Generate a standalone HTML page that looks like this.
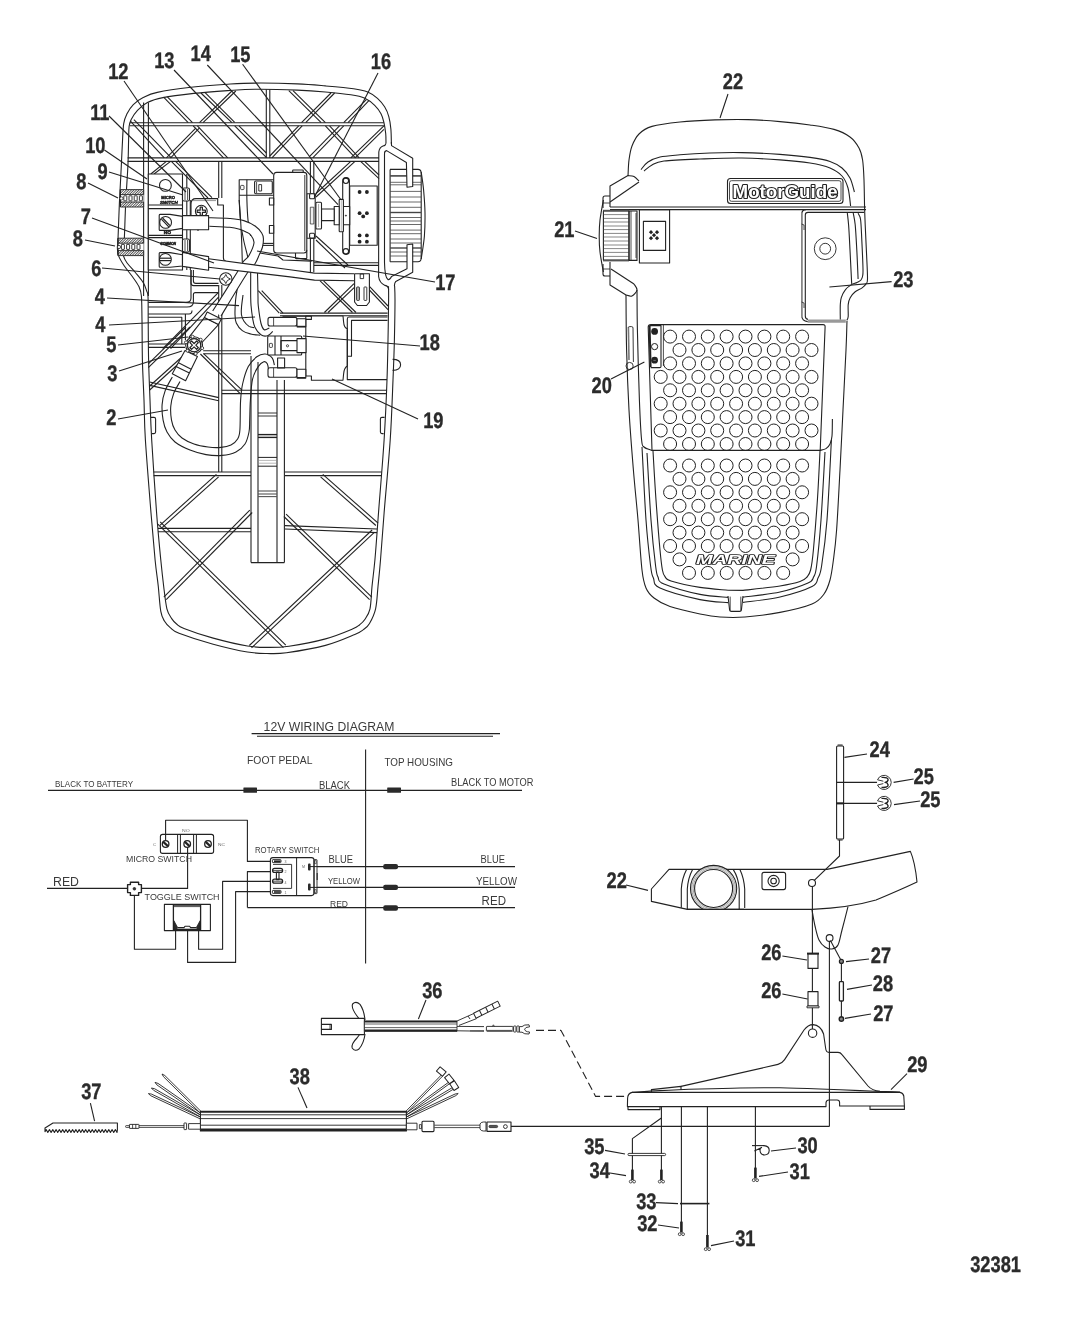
<!DOCTYPE html>
<html lang="en"><head><meta charset="utf-8"><title>Foot Pedal Assembly 32381</title>
<style>
html,body{margin:0;padding:0;background:#fff;}
body{width:1065px;height:1318px;overflow:hidden;}
svg{display:block;will-change:transform;}
text{font-family:"Liberation Sans",sans-serif;}
.lb{font-family:"Liberation Sans",sans-serif;font-weight:bold;text-rendering:geometricPrecision;}
</style></head><body>
<svg width="1065" height="1318" viewBox="0 0 1065 1318" stroke-linecap="butt" stroke-linejoin="round">
<rect x="0" y="0" width="1065" height="1318" fill="#ffffff"/>
<g id="pedal_bottom">
<path d="M394.6 286.0 C394.7 288.3 395.0 291.0 395.0 300.0 C395.0 309.0 394.7 326.7 394.4 340.0 C394.1 353.3 393.7 363.3 393.0 380.0 C392.3 396.7 391.7 417.8 390.2 440.0 C388.7 462.2 385.7 493.0 384.1 513.0 C382.5 533.0 381.5 547.8 380.5 560.0 C379.5 572.2 378.8 578.4 378.0 586.5 C377.2 594.6 377.0 602.6 375.6 608.8 C374.2 615.0 371.5 620.0 369.5 623.5 C367.5 627.0 365.8 627.8 363.4 629.6 C360.9 631.4 361.1 631.9 354.8 634.5 C348.5 637.1 336.9 642.4 325.5 645.4 C314.1 648.4 296.2 651.4 286.5 652.8 C276.8 654.1 273.5 653.6 267.0 653.5 C260.5 653.4 256.4 653.5 247.4 652.0 C238.4 650.5 224.6 647.3 213.2 644.2 C201.8 641.1 186.1 635.9 179.0 633.2 C171.9 630.5 172.9 629.9 170.5 627.9 C168.1 625.9 166.0 623.8 164.4 621.0 C162.8 618.2 161.8 617.0 160.8 611.3 C159.7 605.5 159.2 595.0 158.3 586.5 C157.4 578.0 156.3 572.2 155.1 560.0 C153.9 547.8 152.6 533.0 151.0 513.0 C149.4 493.0 146.6 458.8 145.4 440.0 C144.2 421.2 144.5 413.3 144.0 400.0 C143.5 386.7 142.7 373.3 142.4 360.0 C142.1 346.7 142.2 330.7 142.0 320.0 C141.8 309.3 141.9 301.6 141.4 296.0 C140.9 290.4 140.4 289.8 138.9 286.6 C137.4 283.4 135.0 280.3 132.5 276.8 C130.0 273.3 126.3 269.0 124.0 265.5 C121.7 262.0 119.6 258.5 118.5 255.6 C117.4 252.7 117.5 250.8 117.4 248.0 C117.3 245.2 117.7 246.5 118.0 239.0 C118.3 231.5 118.9 215.2 119.4 203.0 C120.0 190.8 120.8 175.7 121.3 166.0 C121.8 156.3 121.9 152.1 122.3 145.0 C122.7 137.9 122.9 128.9 123.7 123.7 C124.5 118.5 125.4 117.0 127.0 113.8 C128.6 110.6 130.6 107.3 133.3 104.6 C136.0 101.9 139.2 99.6 143.2 97.6 C147.2 95.6 149.3 94.1 157.3 92.4 C165.3 90.7 179.3 88.7 191.0 87.3 C202.7 85.9 217.0 84.9 227.7 84.2 C238.4 83.5 243.4 83.1 255.0 83.1 C266.6 83.0 285.6 83.4 297.3 83.9 C309.0 84.4 316.0 85.1 325.4 85.9 C334.8 86.7 346.6 87.7 353.6 88.7 C360.7 89.7 363.7 90.4 367.7 92.0 C371.7 93.6 374.7 95.8 377.5 98.3 C380.3 100.8 382.7 103.8 384.6 106.8 C386.5 109.8 387.8 112.8 388.8 116.6 C389.9 120.3 390.5 124.7 390.9 129.3 C391.3 133.9 391.3 141.6 391.4 144.0" fill="none" stroke="#222222" stroke-width="1.1" />
<path d="M388.5 286.3 C388.5 288.6 388.7 291.1 388.6 300.0 C388.5 308.9 388.3 326.7 388.0 340.0 C387.7 353.3 387.6 363.3 387.0 380.0 C386.4 396.7 385.5 417.8 384.1 440.0 C382.7 462.2 380.0 493.0 378.5 513.0 C377.0 533.0 376.0 547.8 374.9 560.0 C373.8 572.2 372.8 578.4 372.0 586.5 C371.2 594.6 371.2 603.2 370.0 608.8 C368.8 614.3 366.3 617.1 364.6 619.8 C362.9 622.4 361.7 623.2 359.7 624.7 C357.7 626.2 358.1 626.7 352.4 629.1 C346.7 631.5 336.1 636.0 325.5 638.9 C314.9 641.8 298.8 644.8 289.0 646.2 C279.2 647.6 273.9 647.4 267.0 647.4 C260.1 647.4 256.4 647.5 247.4 646.0 C238.4 644.5 223.8 641.0 213.2 638.1 C202.6 635.2 190.1 630.8 184.0 628.4 C177.9 626.0 178.7 625.6 176.6 624.0 C174.5 622.4 173.3 621.1 171.7 618.6 C170.1 616.1 168.2 614.1 166.9 608.8 C165.6 603.4 164.7 594.6 163.7 586.5 C162.7 578.4 162.0 572.2 160.8 560.0 C159.6 547.8 158.1 533.0 156.6 513.0 C155.1 493.0 152.8 458.8 151.7 440.0 C150.6 421.2 150.5 413.3 150.0 400.0 C149.5 386.7 148.9 373.3 148.6 360.0 C148.3 346.7 148.3 330.6 148.2 320.0 C148.1 309.4 148.3 301.4 148.0 296.5 C147.7 291.6 147.4 293.2 146.6 290.8 C145.8 288.4 145.0 285.4 143.1 282.4 C141.2 279.3 138.1 275.8 135.4 272.5 C132.7 269.2 128.9 265.5 126.9 262.7 C124.9 259.9 124.0 258.1 123.4 255.6 C122.9 253.2 123.4 250.8 123.6 248.0 C123.8 245.2 123.9 246.5 124.3 239.0 C124.7 231.5 125.1 215.2 125.7 203.0 C126.3 190.8 127.4 176.5 127.9 166.0 C128.4 155.5 128.4 146.6 128.6 140.0 C128.8 133.4 128.7 129.9 129.1 126.5 C129.5 123.1 129.8 122.1 131.2 119.4 C132.6 116.7 134.8 113.1 137.5 110.3 C140.2 107.5 143.2 104.6 147.4 102.5 C151.6 100.4 155.2 99.1 162.9 97.6 C170.7 96.1 183.1 94.6 193.9 93.4 C204.7 92.2 217.5 91.3 227.7 90.6 C237.9 89.9 243.4 89.3 255.0 89.2 C266.6 89.1 285.6 89.6 297.3 90.1 C309.0 90.6 316.5 91.2 325.4 92.0 C334.3 92.8 344.2 93.8 350.8 94.8 C357.4 95.8 360.9 96.5 364.9 98.3 C368.9 100.1 372.0 102.8 374.7 105.4 C377.4 108.0 379.5 111.0 381.0 113.8 C382.5 116.6 383.1 119.0 383.9 122.3 C384.7 125.6 385.3 130.0 385.7 133.5 C386.1 137.0 385.9 141.8 386.0 143.4" fill="none" stroke="#222222" stroke-width="1.1" />
<line x1="130.0" y1="122.7" x2="383.9" y2="122.7" stroke="#222222" stroke-width="1.1" />
<line x1="130.0" y1="125.8" x2="383.9" y2="125.8" stroke="#222222" stroke-width="1.1" />
<line x1="127.6" y1="157.9" x2="379.0" y2="157.9" stroke="#222222" stroke-width="1.1" />
<line x1="127.6" y1="161.4" x2="379.0" y2="161.4" stroke="#222222" stroke-width="1.1" />
<line x1="143.6" y1="102.5" x2="143.6" y2="296.0" stroke="#222222" stroke-width="1.1" />
<line x1="148.4" y1="102.5" x2="148.4" y2="296.0" stroke="#222222" stroke-width="1.1" />
<line x1="266.3" y1="89.6" x2="266.3" y2="157.9" stroke="#222222" stroke-width="1.1" />
<line x1="269.8" y1="89.6" x2="269.8" y2="157.9" stroke="#222222" stroke-width="1.1" />
<line x1="163.6" y1="97.2" x2="188.2" y2="122.7" stroke="#222222" stroke-width="1.1" />
<line x1="167.4" y1="96.9" x2="192.5" y2="122.7" stroke="#222222" stroke-width="1.1" />
<line x1="200.9" y1="93.0" x2="231.9" y2="122.7" stroke="#222222" stroke-width="1.1" />
<line x1="205.1" y1="92.7" x2="234.7" y2="122.3" stroke="#222222" stroke-width="1.1" />
<line x1="231.9" y1="91.0" x2="199.5" y2="122.7" stroke="#222222" stroke-width="1.1" />
<line x1="235.8" y1="91.0" x2="203.0" y2="122.7" stroke="#222222" stroke-width="1.1" />
<line x1="288.8" y1="90.6" x2="321.2" y2="122.7" stroke="#222222" stroke-width="1.1" />
<line x1="293.0" y1="90.6" x2="325.4" y2="122.7" stroke="#222222" stroke-width="1.1" />
<line x1="331.0" y1="93.0" x2="301.5" y2="122.7" stroke="#222222" stroke-width="1.1" />
<line x1="334.6" y1="93.0" x2="305.7" y2="122.7" stroke="#222222" stroke-width="1.1" />
<line x1="366.3" y1="99.7" x2="343.7" y2="122.7" stroke="#222222" stroke-width="1.1" />
<line x1="369.1" y1="100.4" x2="348.0" y2="122.7" stroke="#222222" stroke-width="1.1" />
<line x1="193.2" y1="125.8" x2="223.5" y2="157.9" stroke="#222222" stroke-width="1.1" />
<line x1="197.4" y1="125.8" x2="227.7" y2="157.9" stroke="#222222" stroke-width="1.1" />
<line x1="196.0" y1="127.9" x2="166.4" y2="157.9" stroke="#222222" stroke-width="1.1" />
<line x1="199.5" y1="127.9" x2="170.6" y2="157.9" stroke="#222222" stroke-width="1.1" />
<line x1="234.7" y1="125.8" x2="266.3" y2="157.4" stroke="#222222" stroke-width="1.1" />
<line x1="239.0" y1="125.8" x2="266.3" y2="153.0" stroke="#222222" stroke-width="1.1" />
<line x1="130.2" y1="120.8" x2="164.3" y2="157.9" stroke="#222222" stroke-width="1.1" />
<line x1="133.9" y1="119.6" x2="171.3" y2="157.9" stroke="#222222" stroke-width="1.1" />
<line x1="325.4" y1="125.8" x2="355.4" y2="157.9" stroke="#222222" stroke-width="1.1" />
<line x1="329.6" y1="125.8" x2="359.2" y2="157.9" stroke="#222222" stroke-width="1.1" />
<line x1="298.7" y1="125.8" x2="269.8" y2="156.0" stroke="#222222" stroke-width="1.1" />
<line x1="302.2" y1="125.8" x2="271.9" y2="157.9" stroke="#222222" stroke-width="1.1" />
<line x1="339.5" y1="125.8" x2="309.2" y2="156.8" stroke="#222222" stroke-width="1.1" />
<line x1="343.7" y1="125.8" x2="312.7" y2="157.9" stroke="#222222" stroke-width="1.1" />
<line x1="383.9" y1="125.8" x2="350.8" y2="157.9" stroke="#222222" stroke-width="1.1" />
<line x1="383.9" y1="129.3" x2="355.0" y2="157.9" stroke="#222222" stroke-width="1.1" />
<line x1="166.4" y1="161.4" x2="150.8" y2="174.0" stroke="#222222" stroke-width="1.1" />
<line x1="170.6" y1="161.4" x2="154.0" y2="174.0" stroke="#222222" stroke-width="1.1" />
<line x1="171.3" y1="161.4" x2="208.0" y2="198.0" stroke="#222222" stroke-width="1.1" />
<line x1="175.6" y1="161.4" x2="212.0" y2="197.6" stroke="#222222" stroke-width="1.1" />
<line x1="360.6" y1="161.4" x2="379.0" y2="178.6" stroke="#222222" stroke-width="1.1" />
<line x1="364.6" y1="161.4" x2="379.0" y2="175.0" stroke="#222222" stroke-width="1.1" />
<line x1="350.8" y1="161.4" x2="316.0" y2="193.5" stroke="#222222" stroke-width="1.1" />
<line x1="355.0" y1="161.4" x2="316.0" y2="197.0" stroke="#222222" stroke-width="1.1" />
<line x1="316.0" y1="240.0" x2="345.0" y2="268.0" stroke="#222222" stroke-width="1.1" />
<line x1="316.0" y1="236.0" x2="348.0" y2="265.0" stroke="#222222" stroke-width="1.1" />
<line x1="218.7" y1="161.4" x2="218.7" y2="198.0" stroke="#222222" stroke-width="1.1" />
<line x1="221.8" y1="161.4" x2="221.8" y2="198.0" stroke="#222222" stroke-width="1.1" />
<line x1="218.7" y1="285.0" x2="218.7" y2="472.0" stroke="#222222" stroke-width="1.1" />
<line x1="221.8" y1="285.0" x2="221.8" y2="472.0" stroke="#222222" stroke-width="1.1" />
<line x1="310.4" y1="161.4" x2="310.4" y2="194.0" stroke="#222222" stroke-width="1.1" />
<line x1="313.8" y1="161.4" x2="313.8" y2="194.0" stroke="#222222" stroke-width="1.1" />
<line x1="310.4" y1="238.0" x2="310.4" y2="272.0" stroke="#222222" stroke-width="1.1" />
<line x1="313.8" y1="238.0" x2="313.8" y2="272.0" stroke="#222222" stroke-width="1.1" />
<line x1="314.0" y1="262.7" x2="378.6" y2="262.7" stroke="#222222" stroke-width="1.1" />
<line x1="314.0" y1="265.4" x2="378.6" y2="265.4" stroke="#222222" stroke-width="1.1" />
<line x1="280.0" y1="313.1" x2="387.6" y2="313.1" stroke="#222222" stroke-width="1.1" />
<line x1="280.0" y1="315.8" x2="387.6" y2="315.8" stroke="#222222" stroke-width="1.1" />
<line x1="221.8" y1="390.2" x2="387.0" y2="390.2" stroke="#222222" stroke-width="1.1" />
<line x1="221.8" y1="393.6" x2="387.0" y2="393.6" stroke="#222222" stroke-width="1.1" />
<line x1="320.1" y1="280.8" x2="352.5" y2="312.5" stroke="#222222" stroke-width="1.1" />
<line x1="323.6" y1="280.8" x2="356.0" y2="312.5" stroke="#222222" stroke-width="1.1" />
<line x1="354.0" y1="283.7" x2="324.4" y2="312.5" stroke="#222222" stroke-width="1.1" />
<line x1="354.4" y1="287.4" x2="328.0" y2="312.5" stroke="#222222" stroke-width="1.1" />
<line x1="369.4" y1="286.3" x2="388.0" y2="306.0" stroke="#222222" stroke-width="1.1" />
<line x1="369.4" y1="290.0" x2="388.0" y2="309.6" stroke="#222222" stroke-width="1.1" />
<line x1="258.2" y1="290.7" x2="279.3" y2="313.2" stroke="#222222" stroke-width="1.1" />
<line x1="261.7" y1="290.7" x2="283.0" y2="313.2" stroke="#222222" stroke-width="1.1" />
<line x1="148.3" y1="344.0" x2="185.0" y2="344.0" stroke="#222222" stroke-width="1.1" />
<line x1="148.3" y1="347.4" x2="185.0" y2="347.4" stroke="#222222" stroke-width="1.1" />
<line x1="203.2" y1="350.8" x2="251.0" y2="350.8" stroke="#222222" stroke-width="1.1" />
<line x1="203.2" y1="353.7" x2="251.0" y2="353.7" stroke="#222222" stroke-width="1.1" />
<line x1="186.0" y1="327.0" x2="148.3" y2="363.8" stroke="#222222" stroke-width="1.1" />
<line x1="190.0" y1="327.0" x2="148.3" y2="367.6" stroke="#222222" stroke-width="1.1" />
<line x1="183.0" y1="356.0" x2="149.7" y2="386.0" stroke="#222222" stroke-width="1.1" />
<line x1="186.0" y1="357.0" x2="149.7" y2="390.0" stroke="#222222" stroke-width="1.1" />
<line x1="200.4" y1="354.0" x2="239.9" y2="393.4" stroke="#222222" stroke-width="1.1" />
<line x1="203.6" y1="353.7" x2="242.0" y2="390.2" stroke="#222222" stroke-width="1.1" />
<line x1="149.7" y1="382.0" x2="218.7" y2="397.6" stroke="#222222" stroke-width="1.1" />
<line x1="149.7" y1="385.4" x2="218.7" y2="400.8" stroke="#222222" stroke-width="1.1" />
<line x1="218.5" y1="292.3" x2="162.8" y2="348.6" stroke="#222222" stroke-width="1.1" />
<line x1="218.5" y1="297.2" x2="170.6" y2="348.6" stroke="#222222" stroke-width="1.1" />
<path d="M148.3 302.4 L186 302.4 Q191 302.4 191 298 L191 270" fill="none" stroke="#222222" stroke-width="1.1" />
<path d="M148.3 307 L187 307 Q193.4 307 193.4 302 L193.4 294.6 Q193.4 292.6 195.4 292.6 L218.5 292.6" fill="none" stroke="#222222" stroke-width="1.1" />
<path d="M148.3 314 L189 314 Q192 314 192 310.6" fill="none" stroke="#222222" stroke-width="1.1" />
<path d="M191 270 L191 283 Q191 285.6 193.6 285.6 L218.5 285.6" fill="none" stroke="#222222" stroke-width="1.1" />
<path d="M193.4 270 L193.4 281 Q193.4 283.4 196 283.4 L218.5 283.4" fill="none" stroke="#222222" stroke-width="1.1" />
<path d="M148.3 317.3 L181.8 317.3 L181.8 344.0" fill="none" stroke="#222222" stroke-width="1.1" />
<line x1="185.4" y1="314.0" x2="185.4" y2="340.0" stroke="#222222" stroke-width="1.1" />
<line x1="153.6" y1="472.0" x2="251.0" y2="472.0" stroke="#222222" stroke-width="1.1" />
<line x1="153.6" y1="475.6" x2="251.0" y2="475.6" stroke="#222222" stroke-width="1.1" />
<line x1="285.0" y1="472.0" x2="381.6" y2="472.0" stroke="#222222" stroke-width="1.1" />
<line x1="285.0" y1="475.6" x2="381.6" y2="475.6" stroke="#222222" stroke-width="1.1" />
<line x1="158.0" y1="528.4" x2="251.0" y2="528.4" stroke="#222222" stroke-width="1.1" />
<line x1="158.0" y1="531.8" x2="251.0" y2="531.8" stroke="#222222" stroke-width="1.1" />
<line x1="285.0" y1="525.6" x2="377.0" y2="529.0" stroke="#222222" stroke-width="1.1" />
<line x1="285.0" y1="529.0" x2="377.0" y2="532.6" stroke="#222222" stroke-width="1.1" />
<line x1="216.4" y1="474.4" x2="159.9" y2="525.3" stroke="#222222" stroke-width="1.1" />
<line x1="218.6" y1="476.8" x2="162.1" y2="527.7" stroke="#222222" stroke-width="1.1" />
<line x1="157.8" y1="524.2" x2="283.4" y2="647.6" stroke="#222222" stroke-width="1.1" />
<line x1="160.2" y1="521.8" x2="285.8" y2="645.2" stroke="#222222" stroke-width="1.1" />
<line x1="249.8" y1="510.1" x2="163.8" y2="597.2" stroke="#222222" stroke-width="1.1" />
<line x1="252.2" y1="512.5" x2="166.2" y2="599.6" stroke="#222222" stroke-width="1.1" />
<line x1="320.6" y1="476.8" x2="375.9" y2="525.5" stroke="#222222" stroke-width="1.1" />
<line x1="322.8" y1="474.4" x2="378.1" y2="523.1" stroke="#222222" stroke-width="1.1" />
<line x1="283.9" y1="516.5" x2="369.6" y2="599.6" stroke="#222222" stroke-width="1.1" />
<line x1="286.1" y1="514.1" x2="371.8" y2="597.2" stroke="#222222" stroke-width="1.1" />
<line x1="372.1" y1="530.0" x2="249.3" y2="645.5" stroke="#222222" stroke-width="1.1" />
<line x1="374.3" y1="532.4" x2="251.5" y2="647.9" stroke="#222222" stroke-width="1.1" />
<line x1="251.0" y1="356.0" x2="251.0" y2="562.6" stroke="#222222" stroke-width="1.1" />
<line x1="258.0" y1="362.0" x2="258.0" y2="562.6" stroke="#222222" stroke-width="1.1" />
<line x1="277.0" y1="380.0" x2="277.0" y2="562.6" stroke="#222222" stroke-width="1.1" />
<line x1="284.4" y1="380.0" x2="284.4" y2="562.6" stroke="#222222" stroke-width="1.1" />
<line x1="251.0" y1="562.6" x2="284.4" y2="562.6" stroke="#222222" stroke-width="1.1" />
<line x1="258.0" y1="413.0" x2="277.0" y2="413.0" stroke="#222222" stroke-width="0.9" />
<line x1="258.0" y1="416.0" x2="277.0" y2="416.0" stroke="#222222" stroke-width="0.9" />
<line x1="258.0" y1="434.6" x2="277.0" y2="434.6" stroke="#222222" stroke-width="1.4" />
<line x1="258.0" y1="437.4" x2="277.0" y2="437.4" stroke="#222222" stroke-width="1.4" />
<line x1="258.0" y1="457.4" x2="277.0" y2="457.4" stroke="#222222" stroke-width="1.0" />
<line x1="258.0" y1="466.2" x2="277.0" y2="466.2" stroke="#222222" stroke-width="1.0" />
<line x1="258.0" y1="460.4" x2="277.0" y2="460.4" stroke="#888" stroke-width="0.6" />
<line x1="258.0" y1="463.2" x2="277.0" y2="463.2" stroke="#888" stroke-width="0.6" />
<line x1="258.0" y1="491.0" x2="277.0" y2="491.0" stroke="#555" stroke-width="1.1" />
<line x1="258.0" y1="494.0" x2="277.0" y2="494.0" stroke="#555" stroke-width="1.1" />
<line x1="258.0" y1="496.6" x2="277.0" y2="496.6" stroke="#555" stroke-width="1.1" />
<path d="M151 417.4 L154 417.4 Q155.6 417.4 155.6 419 L155.6 432 Q155.6 433.6 154 433.6 L152 433.6" fill="none" stroke="#222222" stroke-width="1.1" />
<path d="M384.6 417.4 L382 417.4 Q380.4 417.4 380.4 419 L380.4 432 Q380.4 433.6 382 433.6 L383.6 433.6" fill="none" stroke="#222222" stroke-width="1.1" />
<path d="M392.6 359.4 Q400.6 359.4 400.6 364.8 Q400.6 370.4 392.6 370.4" fill="none" stroke="#222222" stroke-width="1.1" />
</g>
<g id="pedal_parts">
<path d="M390 169.4 L418 169.4 Q421 169.4 421.2 173 L421.2 258 Q421 261.8 418 261.8 L390 261.8" fill="#fff" stroke="#222222" stroke-width="1.1" />
<path d="M421.2 172.0 C421.6 175.0 423.0 183.2 423.6 190.0 C424.2 196.8 424.9 205.3 425.0 213.0 C425.1 220.7 425.0 228.3 424.4 236.0 C423.8 243.7 421.7 255.2 421.2 259.0" fill="none" stroke="#222222" stroke-width="1.1" />
<line x1="390.4" y1="175.9" x2="421.0" y2="175.9" stroke="#444" stroke-width="1.6" />
<line x1="390.4" y1="182.3" x2="421.0" y2="182.3" stroke="#444" stroke-width="0.8" />
<line x1="390.4" y1="184.8" x2="421.0" y2="184.8" stroke="#444" stroke-width="0.8" />
<line x1="390.4" y1="191.4" x2="421.0" y2="191.4" stroke="#444" stroke-width="0.8" />
<line x1="390.4" y1="197.0" x2="421.0" y2="197.0" stroke="#444" stroke-width="0.8" />
<line x1="390.4" y1="202.0" x2="421.0" y2="202.0" stroke="#444" stroke-width="0.8" />
<line x1="390.4" y1="207.3" x2="421.0" y2="207.3" stroke="#444" stroke-width="0.8" />
<line x1="390.4" y1="212.5" x2="421.0" y2="212.5" stroke="#444" stroke-width="1.4" />
<line x1="390.4" y1="217.5" x2="421.0" y2="217.5" stroke="#444" stroke-width="0.8" />
<line x1="390.4" y1="221.0" x2="421.0" y2="221.0" stroke="#444" stroke-width="0.8" />
<line x1="390.4" y1="224.5" x2="421.0" y2="224.5" stroke="#444" stroke-width="0.8" />
<line x1="390.4" y1="230.1" x2="421.0" y2="230.1" stroke="#444" stroke-width="0.8" />
<line x1="390.4" y1="233.7" x2="421.0" y2="233.7" stroke="#444" stroke-width="0.8" />
<line x1="390.4" y1="239.0" x2="421.0" y2="239.0" stroke="#444" stroke-width="0.8" />
<line x1="390.4" y1="243.0" x2="421.0" y2="243.0" stroke="#444" stroke-width="0.8" />
<line x1="390.4" y1="248.0" x2="421.0" y2="248.0" stroke="#444" stroke-width="1.4" />
<line x1="390.4" y1="252.0" x2="421.0" y2="252.0" stroke="#444" stroke-width="0.8" />
<line x1="390.4" y1="256.0" x2="421.0" y2="256.0" stroke="#444" stroke-width="0.8" />
<line x1="390.1" y1="169.4" x2="390.1" y2="261.8" stroke="#222222" stroke-width="1.1" />
<path d="M391.5 145.6 L412.7 158.3 L412.7 186.5 L407.0 187.2 L406.4 162.5 L386.6 150.6 Z" fill="#fff" stroke="none" stroke-width="0" />
<path d="M391.5 276.5 L407.0 268.7 L407.0 244.8 L412.7 244.0 L412.7 272.3 L395.8 281.4 L394.4 286.0 L388.0 286.0 Z" fill="#fff" stroke="none" stroke-width="0" />
<path d="M391.4 142 L391.5 145.6 L412.7 158.3 L412.7 186.5 L407 187.2 L406.4 162.5 L386.6 150.6 Q384.5 151 384.5 153.5 L384.5 262.4 Q384.8 277.4 388 279.6 Q390 280 391.5 276.5 L407 268.7 L407 244.8 L412.7 244 L412.7 272.3 L395.8 281.4 Q394.4 283 394.4 286" fill="none" stroke="#222222" stroke-width="1.1" />
<path d="M386 143.4 Q385.6 145.6 383 146 Q379.4 147.4 378.8 152 L378.6 276.5 Q379.4 283 385 285.4 Q388.6 286 388.6 290" fill="none" stroke="#222222" stroke-width="1.1" />
<rect x="349.7" y="186.0" width="27.5" height="59.2" rx="0" fill="#fff" stroke="#222222" stroke-width="1.1"/>
<circle cx="359.6" cy="192.0" r="1.90" fill="#222" stroke="#222222" stroke-width="0"/>
<circle cx="366.9" cy="192.0" r="1.90" fill="#222" stroke="#222222" stroke-width="0"/>
<circle cx="359.6" cy="213.2" r="1.90" fill="#222" stroke="#222222" stroke-width="0"/>
<circle cx="366.9" cy="213.2" r="1.90" fill="#222" stroke="#222222" stroke-width="0"/>
<circle cx="363.2" cy="216.4" r="1.90" fill="#222" stroke="#222222" stroke-width="0"/>
<circle cx="359.6" cy="235.4" r="1.90" fill="#222" stroke="#222222" stroke-width="0"/>
<circle cx="366.9" cy="235.4" r="1.90" fill="#222" stroke="#222222" stroke-width="0"/>
<circle cx="359.6" cy="241.7" r="1.90" fill="#222" stroke="#222222" stroke-width="0"/>
<circle cx="366.9" cy="241.7" r="1.90" fill="#222" stroke="#222222" stroke-width="0"/>
<rect x="342.7" y="177.6" width="6.7" height="76.8" rx="3.3" fill="#fff" stroke="#222222" stroke-width="1.1"/>
<circle cx="345.9" cy="180.8" r="2.70" fill="none" stroke="#222222" stroke-width="1.1"/>
<circle cx="345.9" cy="251.3" r="2.70" fill="none" stroke="#222222" stroke-width="1.1"/>
<rect x="343.4" y="206.5" width="6.3" height="18.3" rx="0" fill="#fff" stroke="#222222" stroke-width="1.1"/>
<circle cx="345.9" cy="215.6" r="0.60" fill="#333" stroke="#222222" stroke-width="0.6"/>
<rect x="339.2" y="199.4" width="4.2" height="32.4" rx="0.8" fill="#fff" stroke="#222222" stroke-width="1.1"/>
<line x1="341.3" y1="200.0" x2="341.3" y2="231.0" stroke="#777" stroke-width="0.5" />
<rect x="334.2" y="206.5" width="5.0" height="18.3" rx="0" fill="#fff" stroke="#222222" stroke-width="1.1"/>
<rect x="321.5" y="209.0" width="12.7" height="11.6" rx="0" fill="#fff" stroke="#222222" stroke-width="1.1"/>
<rect x="315.9" y="202.3" width="5.6" height="26.7" rx="1" fill="#fff" stroke="#222222" stroke-width="1.1"/>
<line x1="318.6" y1="204.0" x2="318.6" y2="227.0" stroke="#666" stroke-width="0.6" />
<rect x="306.8" y="193.8" width="8.4" height="44.4" rx="0" fill="#fff" stroke="#222222" stroke-width="1.1"/>
<rect x="309.6" y="193.8" width="4.9" height="4.9" rx="1" fill="#fff" stroke="#222222" stroke-width="1.1"/>
<rect x="309.6" y="233.2" width="4.9" height="4.9" rx="1" fill="#fff" stroke="#222222" stroke-width="1.1"/>
<rect x="310.3" y="207.2" width="3.5" height="16.8" rx="0" fill="#eee" stroke="#222222" stroke-width="0.7"/>
<rect x="292.7" y="170.0" width="10.5" height="4.0" rx="0.6" fill="#fff" stroke="#222222" stroke-width="1.1"/>
<rect x="295.5" y="250.0" width="11.3" height="8.6" rx="0.6" fill="#fff" stroke="#222222" stroke-width="1.1"/>
<rect x="273.7" y="172.4" width="33.1" height="80.6" rx="3" fill="#fff" stroke="#222222" stroke-width="1.1"/>
<line x1="304.8" y1="175.0" x2="304.8" y2="251.0" stroke="#222222" stroke-width="0.9" />
<rect x="269.4" y="198.0" width="4.3" height="7.0" rx="0" fill="#fff" stroke="#222222" stroke-width="1.1"/>
<rect x="269.4" y="225.5" width="4.3" height="7.7" rx="0" fill="#fff" stroke="#222222" stroke-width="1.1"/>
<path d="M273.7 179.7 L239.2 179.7 L239.2 200.0" fill="none" stroke="#222222" stroke-width="1.1" />
<path d="M239.2 200.0 C239.4 203.3 239.7 213.3 240.4 220.0 C241.1 226.7 242.3 233.7 243.6 240.0 C244.9 246.3 246.9 253.0 248.0 258.0 C249.1 263.0 249.7 268.0 250.0 270.0" fill="none" stroke="#222222" stroke-width="1.1" />
<path d="M246.9 179.7 C246.9 183.1 246.7 193.3 246.9 200.0 C247.1 206.7 247.4 214.0 248.0 220.0 C248.6 226.0 250.2 233.3 250.6 236.0" fill="none" stroke="#222222" stroke-width="1.1" />
<line x1="239.2" y1="195.2" x2="273.7" y2="195.2" stroke="#222222" stroke-width="1.1" />
<rect x="254.6" y="181.0" width="17.7" height="12.8" rx="1.2" fill="#fff" stroke="#222222" stroke-width="1.1"/>
<line x1="256.6" y1="182.0" x2="256.6" y2="193.0" stroke="#222222" stroke-width="0.8" />
<rect x="258.8" y="184.6" width="2.8" height="6.4" rx="0" fill="none" stroke="#222222" stroke-width="0.9"/>
<rect x="240.6" y="185.4" width="3.4" height="4.2" rx="0.8" fill="none" stroke="#222222" stroke-width="0.8"/>
<line x1="254.0" y1="243.4" x2="273.7" y2="243.4" stroke="#222222" stroke-width="1.1" />
<line x1="254.0" y1="245.4" x2="273.7" y2="245.4" stroke="#222222" stroke-width="1.1" />
<path d="M258.2 252.7 L278.0 256.0 L283.0 260.0 L311.7 261.1" fill="none" stroke="#222222" stroke-width="1.1" />
<rect x="148.3" y="174.0" width="34.2" height="96.0" rx="0" fill="#fff" stroke="#222222" stroke-width="1.1"/>
<line x1="148.3" y1="205.0" x2="182.5" y2="205.0" stroke="#222222" stroke-width="1.1" />
<line x1="148.3" y1="208.6" x2="182.5" y2="208.6" stroke="#222222" stroke-width="1.1" />
<line x1="148.3" y1="235.4" x2="182.5" y2="235.4" stroke="#222222" stroke-width="1.1" />
<line x1="148.3" y1="237.6" x2="182.5" y2="237.6" stroke="#222222" stroke-width="1.1" />
<circle cx="165.4" cy="185.4" r="5.90" fill="none" stroke="#222222" stroke-width="1.1"/>
<text x="161.2" y="198.8" font-size="4.2" fill="#222" font-weight="bold" font-style="normal" textLength="13.8" lengthAdjust="spacingAndGlyphs" stroke="#222" stroke-width="0.45">MICRO</text>
<text x="160.0" y="203.6" font-size="4.2" fill="#222" font-weight="bold" font-style="italic" textLength="17.8" lengthAdjust="spacingAndGlyphs" stroke="#222" stroke-width="0.45">SWITCH</text>
<text x="163.7" y="233.8" font-size="4.2" fill="#222" font-weight="bold" font-style="normal" textLength="7.3" lengthAdjust="spacingAndGlyphs" stroke="#222" stroke-width="0.45">NO</text>
<text x="160.2" y="244.8" font-size="3.8" fill="#222" font-weight="bold" font-style="italic" textLength="15.8" lengthAdjust="spacingAndGlyphs" stroke="#222" stroke-width="0.45">COMMON</text>
<path d="M160 214.4 L170 214.4 L182.5 216.4 L182.5 228.4 L170 230.4 L160 230.4 Q159.2 230.4 159.2 229.4 L159.2 215.4 Q159.2 214.4 160 214.4 Z" fill="none" stroke="#222222" stroke-width="1.1" />
<circle cx="165.6" cy="222.4" r="5.90" fill="none" stroke="#222222" stroke-width="1.1"/>
<line x1="161.4" y1="219.2" x2="168.8" y2="226.8" stroke="#222222" stroke-width="1.2" />
<line x1="162.6" y1="218.0" x2="170.0" y2="225.6" stroke="#222222" stroke-width="1.2" />
<path d="M160 252.6 L170 252.6 L182.5 254.8 L182.5 266 L170 267.2 L160 267.2 Q159.2 267.2 159.2 266.2 L159.2 253.6 Q159.2 252.6 160 252.6 Z" fill="none" stroke="#222222" stroke-width="1.1" />
<circle cx="165.4" cy="259.4" r="5.90" fill="none" stroke="#222222" stroke-width="1.1"/>
<line x1="159.8" y1="258.2" x2="171.0" y2="258.2" stroke="#222222" stroke-width="1.2" />
<line x1="159.8" y1="260.6" x2="171.0" y2="260.6" stroke="#222222" stroke-width="1.2" />
<line x1="186.8" y1="174.0" x2="186.8" y2="270.0" stroke="#222222" stroke-width="1.1" />
<line x1="190.3" y1="200.0" x2="190.3" y2="270.0" stroke="#222222" stroke-width="1.1" />
<rect x="182.5" y="188.0" width="7.0" height="13.0" rx="1.6" fill="#fff" stroke="#222222" stroke-width="1.1"/>
<line x1="185.0" y1="189.0" x2="185.0" y2="200.0" stroke="#222222" stroke-width="0.8" />
<line x1="187.6" y1="189.0" x2="187.6" y2="200.0" stroke="#222222" stroke-width="0.8" />
<rect x="182.5" y="239.0" width="7.0" height="13.0" rx="1.6" fill="#fff" stroke="#222222" stroke-width="1.1"/>
<line x1="185.0" y1="240.0" x2="185.0" y2="251.0" stroke="#222222" stroke-width="0.8" />
<line x1="187.6" y1="240.0" x2="187.6" y2="251.0" stroke="#222222" stroke-width="0.8" />
<defs><pattern id="hat" width="1.8" height="1.8" patternUnits="userSpaceOnUse" patternTransform="rotate(-45)"><rect width="1.8" height="1.8" fill="#fff"/><rect width="1.8" height="0.9" fill="#555"/></pattern></defs>
<rect x="120.4" y="189.6" width="23.2" height="17.6" rx="0" fill="#fff" stroke="#222222" stroke-width="0"/>
<rect x="120.4" y="189.6" width="23.2" height="5.0" rx="0" fill="url(#hat)" stroke="#222222" stroke-width="0.9"/>
<rect x="120.4" y="202.0" width="23.2" height="5.0" rx="0" fill="url(#hat)" stroke="#222222" stroke-width="0.9"/>
<rect x="123.8" y="195.8" width="3.0" height="5.0" rx="0.4" fill="#fff" stroke="#222222" stroke-width="0.9"/>
<rect x="129.0" y="195.8" width="3.0" height="5.0" rx="0.4" fill="#fff" stroke="#222222" stroke-width="0.9"/>
<rect x="134.2" y="195.8" width="3.0" height="5.0" rx="0.4" fill="#fff" stroke="#222222" stroke-width="0.9"/>
<rect x="139.4" y="195.8" width="3.0" height="5.0" rx="0.4" fill="#fff" stroke="#222222" stroke-width="0.9"/>
<line x1="120.4" y1="189.6" x2="120.4" y2="207.0" stroke="#222222" stroke-width="1.2" />
<circle cx="121.4" cy="198.4" r="1.60" fill="#fff" stroke="#222222" stroke-width="0.8"/>
<rect x="118.0" y="238.2" width="25.6" height="17.6" rx="0" fill="#fff" stroke="#222222" stroke-width="0"/>
<rect x="118.0" y="238.2" width="25.6" height="5.0" rx="0" fill="url(#hat)" stroke="#222222" stroke-width="0.9"/>
<rect x="118.0" y="250.6" width="25.6" height="5.0" rx="0" fill="url(#hat)" stroke="#222222" stroke-width="0.9"/>
<rect x="121.4" y="244.4" width="3.0" height="5.0" rx="0.4" fill="#fff" stroke="#222222" stroke-width="0.9"/>
<rect x="126.6" y="244.4" width="3.0" height="5.0" rx="0.4" fill="#fff" stroke="#222222" stroke-width="0.9"/>
<rect x="131.8" y="244.4" width="3.0" height="5.0" rx="0.4" fill="#fff" stroke="#222222" stroke-width="0.9"/>
<rect x="137.0" y="244.4" width="3.0" height="5.0" rx="0.4" fill="#fff" stroke="#222222" stroke-width="0.9"/>
<line x1="118.0" y1="238.2" x2="118.0" y2="255.6" stroke="#222222" stroke-width="1.2" />
<circle cx="119.0" cy="247.0" r="1.60" fill="#fff" stroke="#222222" stroke-width="0.8"/>
<path d="M191 217.7 L191 204 Q191 198.6 196 198.6 L217.7 198.6 L217.7 205 L223.4 205 L223.4 217.7" fill="#fff" stroke="#222222" stroke-width="1.1" />
<line x1="193.0" y1="200.6" x2="216.0" y2="200.6" stroke="#777" stroke-width="0.8" />
<circle cx="201.3" cy="211.2" r="5.90" fill="#fff" stroke="#222222" stroke-width="1.1"/>
<path d="M200.2 207.2 h2.2 v3 h3 v2.2 h-3 v3 h-2.2 v-3 h-3 v-2.2 h3 Z" fill="none" stroke="#222222" stroke-width="1.2" />
<path d="M237.2 289.0 C236.9 290.8 236.0 295.8 235.6 300.0 C235.2 304.2 234.9 310.7 235.0 314.5 C235.1 318.3 235.1 320.3 236.3 323.0 C237.5 325.7 239.9 328.8 242.3 330.6 C244.7 332.4 247.8 333.2 250.7 334.0 C253.6 334.8 258.4 335.0 260.0 335.2 L254.0 327.6 C253.2 327.4 250.7 327.4 249.0 326.4 C247.3 325.3 245.3 323.3 244.0 321.3 C242.7 319.3 241.8 317.1 241.4 314.5 C241.0 311.9 241.3 309.2 241.6 306.0 C241.9 302.8 242.8 296.8 243.0 295.0 Z" fill="#fff" stroke="none" stroke-width="0" />
<path d="M237.2 289.0 C236.9 290.8 236.0 295.8 235.6 300.0 C235.2 304.2 234.9 310.7 235.0 314.5 C235.1 318.3 235.1 320.3 236.3 323.0 C237.5 325.7 239.9 328.8 242.3 330.6 C244.7 332.4 247.8 333.2 250.7 334.0 C253.6 334.8 258.4 335.0 260.0 335.2" fill="none" stroke="#222222" stroke-width="1.1" />
<path d="M243.0 295.0 C242.8 296.8 241.9 302.8 241.6 306.0 C241.3 309.2 241.0 311.9 241.4 314.5 C241.8 317.1 242.7 319.3 244.0 321.3 C245.3 323.3 247.3 325.3 249.0 326.4 C250.7 327.4 253.2 327.4 254.0 327.6" fill="none" stroke="#222222" stroke-width="1.1" />
<path d="M250.7 272.0 C250.7 276.3 250.6 291.9 250.7 297.6 C250.8 303.3 250.8 302.6 251.1 306.0 C251.4 309.4 252.0 314.5 252.6 318.0 C253.2 321.5 253.5 324.4 254.9 327.2 C256.3 330.0 258.8 333.4 260.9 334.8 C263.0 336.2 265.6 336.3 267.6 335.7 C269.6 335.1 271.9 332.1 272.7 331.4 L269.3 328.0 C268.4 328.3 265.6 330.5 264.2 329.7 C262.8 328.9 261.9 326.9 260.9 323.0 C259.9 319.1 258.8 310.3 258.3 306.0 C257.8 301.7 258.1 302.7 258.0 297.0 C257.9 291.3 257.6 276.2 257.5 272.0 Z" fill="#fff" stroke="none" stroke-width="0" />
<path d="M250.7 272.0 C250.7 276.3 250.6 291.9 250.7 297.6 C250.8 303.3 250.8 302.6 251.1 306.0 C251.4 309.4 252.0 314.5 252.6 318.0 C253.2 321.5 253.5 324.4 254.9 327.2 C256.3 330.0 258.8 333.4 260.9 334.8 C263.0 336.2 265.6 336.3 267.6 335.7 C269.6 335.1 271.9 332.1 272.7 331.4" fill="none" stroke="#222222" stroke-width="1.1" />
<path d="M257.5 272.0 C257.6 276.2 257.9 291.3 258.0 297.0 C258.1 302.7 257.8 301.7 258.3 306.0 C258.8 310.3 259.9 319.1 260.9 323.0 C261.9 326.9 262.8 328.9 264.2 329.7 C265.6 330.5 268.4 328.3 269.3 328.0" fill="none" stroke="#222222" stroke-width="1.1" />
<path d="M208.6 217.7 C212.1 217.8 223.8 218.0 229.7 218.5 C235.6 219.0 239.5 219.3 243.8 220.6 C248.1 221.9 252.4 224.1 255.4 226.2 C258.4 228.3 260.4 230.9 261.7 233.0 C263.0 235.1 263.3 236.2 263.4 238.5 C263.5 240.8 263.2 244.2 262.5 247.0 C261.8 249.8 260.2 252.6 259.0 255.4 C257.8 258.2 256.9 260.9 255.0 263.8 C253.1 266.7 253.0 264.3 247.3 273.0 C241.6 281.7 225.4 308.8 221.0 316.0 L212.7 311.0 C216.8 304.6 232.1 280.5 237.2 272.3 C242.2 264.1 241.0 264.8 243.0 262.0 C245.0 259.2 247.2 258.6 249.0 255.4 C250.8 252.2 253.7 246.1 254.0 242.7 C254.3 239.3 252.0 236.8 250.7 235.0 C249.4 233.2 247.8 232.9 246.0 232.0 C244.2 231.1 242.7 230.2 240.0 229.4 C237.3 228.6 234.8 227.8 229.7 227.3 C224.6 226.8 212.7 226.4 209.3 226.2 Z" fill="#fff" stroke="none" stroke-width="0" />
<path d="M208.6 217.7 C212.1 217.8 223.8 218.0 229.7 218.5 C235.6 219.0 239.5 219.3 243.8 220.6 C248.1 221.9 252.4 224.1 255.4 226.2 C258.4 228.3 260.4 230.9 261.7 233.0 C263.0 235.1 263.3 236.2 263.4 238.5 C263.5 240.8 263.2 244.2 262.5 247.0 C261.8 249.8 260.2 252.6 259.0 255.4 C257.8 258.2 256.9 260.9 255.0 263.8 C253.1 266.7 253.0 264.3 247.3 273.0 C241.6 281.7 225.4 308.8 221.0 316.0" fill="none" stroke="#222222" stroke-width="1.1" />
<path d="M209.3 226.2 C212.7 226.4 224.6 226.8 229.7 227.3 C234.8 227.8 237.3 228.6 240.0 229.4 C242.7 230.2 244.2 231.1 246.0 232.0 C247.8 232.9 249.4 233.2 250.7 235.0 C252.0 236.8 254.3 239.3 254.0 242.7 C253.7 246.1 250.8 252.2 249.0 255.4 C247.2 258.6 245.0 259.2 243.0 262.0 C241.0 264.8 242.2 264.1 237.2 272.3 C232.1 280.5 216.8 304.6 212.7 311.0" fill="none" stroke="#222222" stroke-width="1.1" />
<rect x="182.5" y="215.6" width="26.1" height="14.1" rx="0" fill="#fff" stroke="#222222" stroke-width="1.1"/>
<line x1="198.0" y1="229.7" x2="198.0" y2="231.0" stroke="#222222" stroke-width="1.1" />
<path d="M223.4 217.7 L223.4 258 Q223.6 261 226 261.4" fill="none" stroke="#222222" stroke-width="1.1" />
<path d="M239.2 200.0 C239.4 203.3 240.2 213.3 240.6 220.0 C241.0 226.7 241.3 233.0 241.6 240.0 C241.9 247.0 242.2 258.3 242.3 262.0" fill="none" stroke="#222222" stroke-width="1.1" />
<path d="M204.4 317.6 L188.9 337.3 L201.5 343.0 L218.5 324.6 Z" fill="#fff" stroke="#222222" stroke-width="1.1" />
<path d="M207.2 312.0 L221.3 319.0 L218.5 324.6 L204.4 317.6 Z" fill="#fff" stroke="#222222" stroke-width="1.1" />
<path d="M208.6 258.7 L290.0 269.7 L314.5 273.1 L354.0 273.8 L354.0 280.8 L314.5 280.1 L290.0 276.9 L208.6 267.2 Z" fill="#fff" stroke="none" stroke-width="0" />
<path d="M208.6 258.7 L290.0 269.7 L314.5 273.1 L354.0 273.8" fill="none" stroke="#222222" stroke-width="1.1" />
<path d="M208.6 267.2 L290.0 276.9 L314.5 280.1 L354.0 280.8" fill="none" stroke="#222222" stroke-width="1.1" />
<path d="M182.5 252.4 L208.6 256.6 L208.6 270.2 L182.5 266.4 Z" fill="#fff" stroke="#222222" stroke-width="1.1" />
<circle cx="225.8" cy="279.0" r="6.20" fill="#fff" stroke="#222222" stroke-width="1.1"/>
<path d="M225.8 274.4 Q226.6 278.2 230.4 279 Q226.6 279.8 225.8 283.6 Q225 279.8 221.2 279 Q225 278.2 225.8 274.4 Z" fill="none" stroke="#222222" stroke-width="0.9" />
<path d="M354.6 273.8 L369.4 273.8 L369.4 302 L366.6 305.5 L357.4 305.5 L354.6 302 Z" fill="#fff" stroke="#222222" stroke-width="1.1" />
<rect x="356.6" y="287.0" width="2.8" height="13.4" rx="0.6" fill="#bbb" stroke="#222222" stroke-width="0.9"/>
<rect x="364.0" y="287.0" width="2.8" height="13.4" rx="0.6" fill="#fff" stroke="#222222" stroke-width="0.9"/>
<rect x="360.2" y="274.0" width="3.4" height="4.6" rx="0" fill="none" stroke="#222222" stroke-width="0.9"/>
<path d="M185.0 350.6 L197.4 356.4 L185.6 380.7 L172.3 373.7 Z" fill="#fff" stroke="#222222" stroke-width="1.1" />
<path d="M176.0 366.4 L189.4 373.0" fill="none" stroke="#222222" stroke-width="1.1" />
<path d="M178.0 362.6 L191.2 369.2" fill="none" stroke="#222222" stroke-width="1.1" />
<path d="M172.3 377.0 C171.1 379.3 166.9 386.0 165.2 390.6 C163.5 395.2 162.4 399.7 162.1 404.6 C161.8 409.5 162.3 415.5 163.1 420.1 C163.9 424.7 165.0 428.4 167.0 432.0 C169.0 435.6 171.2 439.0 175.0 442.0 C178.8 445.0 184.8 447.9 190.0 450.0 C195.2 452.1 200.7 453.7 206.0 454.6 C211.3 455.5 217.0 455.8 222.0 455.4 C227.0 455.0 232.2 453.9 236.0 452.0 C239.8 450.1 242.8 447.3 245.0 444.0 C247.2 440.7 248.2 436.0 249.0 432.0 C249.8 428.0 249.5 425.3 249.7 420.0 C249.9 414.7 249.9 407.2 250.4 400.4 C250.9 393.6 251.2 384.9 252.5 379.3 C253.8 373.7 256.3 369.5 258.2 366.6 C260.1 363.7 262.3 362.2 263.8 361.7 C265.3 361.2 266.5 362.3 267.3 363.8 C268.1 365.3 268.5 369.6 268.7 370.8" fill="none" stroke="#222222" stroke-width="1.1" />
<path d="M180.0 381.6 C178.9 383.6 175.2 389.3 173.7 393.4 C172.2 397.5 171.2 401.6 170.8 406.0 C170.4 410.4 170.8 416.1 171.5 420.1 C172.2 424.1 173.2 427.0 175.0 430.0 C176.8 433.0 178.8 435.7 182.0 438.0 C185.2 440.3 189.7 442.5 194.0 444.0 C198.3 445.5 203.5 446.4 208.0 447.0 C212.5 447.6 217.2 447.7 221.0 447.4 C224.8 447.1 228.2 446.4 231.0 445.0 C233.8 443.6 236.1 441.5 237.6 439.0 C239.1 436.5 239.4 436.4 239.9 430.0 C240.4 423.6 240.1 408.1 240.6 400.4 C241.1 392.6 241.4 389.1 242.7 383.5 C244.0 377.9 246.0 371.1 248.3 366.6 C250.7 362.2 254.0 358.9 256.8 356.8 C259.6 354.7 262.6 353.8 265.2 354.0 C267.8 354.2 270.8 356.3 272.3 358.2 C273.8 360.1 274.0 364.0 274.4 365.2" fill="none" stroke="#222222" stroke-width="1.1" />
<circle cx="194.1" cy="345.2" r="8.40" fill="#fff" stroke="#222222" stroke-width="1.1"/>
<circle cx="194.1" cy="345.2" r="6.60" fill="none" stroke="#222222" stroke-width="1.1"/>
<circle cx="202.2" cy="348.1" r="1.50" fill="#fff" stroke="#222222" stroke-width="0.8"/>
<circle cx="195.6" cy="353.7" r="1.50" fill="#fff" stroke="#222222" stroke-width="0.8"/>
<circle cx="187.5" cy="350.7" r="1.50" fill="#fff" stroke="#222222" stroke-width="0.8"/>
<circle cx="186.0" cy="342.3" r="1.50" fill="#fff" stroke="#222222" stroke-width="0.8"/>
<circle cx="192.6" cy="336.7" r="1.50" fill="#fff" stroke="#222222" stroke-width="0.8"/>
<circle cx="200.7" cy="339.7" r="1.50" fill="#fff" stroke="#222222" stroke-width="0.8"/>
<circle cx="194.1" cy="345.2" r="6.60" fill="#fff" stroke="#222222" stroke-width="1.1"/>
<path d="M192.9 340.4 h2.4 v3.6 h3.6 v2.4 h-3.6 v3.6 h-2.4 v-3.6 h-3.6 v-2.4 h3.6 Z" fill="none" stroke="#222222" stroke-width="1.2" transform="rotate(45 194.1 345.2)"/>
<path d="M305.8 316 L343 316 L343.6 322 Q344 328 347.3 328.6 L347.3 366 Q344 368 343.6 374 L343 380.3 L311.4 380.3 L311.4 376 L305.8 376 Z" fill="#fff" stroke="#222222" stroke-width="1.1" />
<path d="M282.5 316.2 L311.4 316.2 L311.4 319.4 L296.0 319.4" fill="none" stroke="#222222" stroke-width="1.1" />
<rect x="268.0" y="317.4" width="29.0" height="8.6" rx="2" fill="#fff" stroke="#222222" stroke-width="1.1"/>
<rect x="297.0" y="318.8" width="8.8" height="8.0" rx="0" fill="#fff" stroke="#222222" stroke-width="1.1"/>
<line x1="273.6" y1="317.4" x2="273.6" y2="326.0" stroke="#222222" stroke-width="0.8" />
<line x1="297.0" y1="326.6" x2="305.8" y2="326.6" stroke="#222222" stroke-width="1.6" />
<rect x="268.0" y="367.8" width="29.0" height="9.4" rx="2" fill="#fff" stroke="#222222" stroke-width="1.1"/>
<rect x="297.0" y="369.2" width="8.8" height="8.8" rx="0" fill="#fff" stroke="#222222" stroke-width="1.1"/>
<line x1="273.6" y1="367.8" x2="273.6" y2="377.2" stroke="#222222" stroke-width="0.8" />
<line x1="297.0" y1="377.8" x2="305.8" y2="377.8" stroke="#222222" stroke-width="1.6" />
<rect x="267.7" y="336.0" width="34.0" height="19.0" rx="1" fill="#fff" stroke="#222222" stroke-width="1.1"/>
<rect x="281.0" y="340.6" width="20.0" height="10.0" rx="0" fill="none" stroke="#222222" stroke-width="1.1"/>
<circle cx="287.5" cy="345.8" r="1.10" fill="none" stroke="#222222" stroke-width="0.8"/>
<rect x="297.0" y="338.6" width="9.0" height="14.0" rx="0" fill="#fff" stroke="#222222" stroke-width="1.1"/>
<rect x="269.4" y="343.4" width="3.0" height="4.0" rx="0.6" fill="none" stroke="#222222" stroke-width="0.8"/>
<line x1="275.0" y1="336.0" x2="275.0" y2="355.0" stroke="#222222" stroke-width="1.1" />
<line x1="281.0" y1="336.0" x2="281.0" y2="355.0" stroke="#222222" stroke-width="1.1" />
<rect x="277.6" y="358.0" width="7.0" height="10.0" rx="0" fill="none" stroke="#222222" stroke-width="1.1"/>
<path d="M387.5 317 L349 317 Q347.3 317 347.3 319 L347.3 379.6 L387 379.6" fill="none" stroke="#222222" stroke-width="1.1" />
<path d="M387.5 320.4 L351.5 320.4 L351.5 356.3 L347.6 356.3" fill="none" stroke="#222222" stroke-width="1.1" />
</g>
<g id="pedal_top">
<path d="M628.0 176.0 C628.2 173.3 628.3 165.0 629.0 160.0 C629.7 155.0 630.3 150.3 632.0 146.0 C633.7 141.7 635.7 137.3 639.0 134.0 C642.3 130.7 645.2 128.4 652.0 126.4 C658.8 124.4 669.5 123.1 680.0 122.0 C690.5 120.9 703.7 120.3 715.0 119.9 C726.3 119.5 737.2 119.3 748.0 119.6 C758.8 119.9 769.7 120.7 780.0 121.6 C790.3 122.5 801.0 123.7 810.0 125.0 C819.0 126.3 827.3 127.4 834.0 129.4 C840.7 131.4 845.8 133.9 850.0 137.0 C854.2 140.1 856.9 144.2 859.0 148.0 C861.1 151.8 861.8 154.7 862.6 160.0 C863.4 165.3 863.7 172.0 864.0 180.0 C864.3 188.0 864.4 200.6 864.6 208.0 C864.8 215.4 864.9 216.9 865.2 224.7 C865.5 232.5 866.2 245.9 866.6 255.0 C867.0 264.1 867.6 274.2 867.5 279.0 C867.4 283.8 866.9 282.4 866.0 283.9 C865.1 285.4 863.9 286.6 862.1 287.9 C860.3 289.2 857.2 290.2 855.2 291.8 C853.2 293.4 851.4 295.6 850.2 297.7 C849.0 299.8 848.5 301.5 848.2 304.6 C847.9 307.7 848.4 313.9 848.2 316.5 C848.0 319.1 847.0 319.8 846.8 320.4" fill="none" stroke="#222222" stroke-width="1.1" />
<path d="M847.0 321.0 C846.8 325.8 846.7 335.2 846.0 350.0 C845.3 364.8 844.0 390.0 843.0 410.0 C842.0 430.0 841.1 450.0 840.0 470.0 C838.9 490.0 837.7 515.0 836.6 530.0 C835.5 545.0 834.5 551.7 833.4 560.0 C832.3 568.3 831.6 574.3 830.0 580.0 C828.4 585.7 827.0 590.0 824.0 594.0 C821.0 598.0 819.3 600.9 812.0 604.0 C804.7 607.1 791.2 610.2 780.0 612.4 C768.8 614.6 755.0 616.2 745.0 617.0 C735.0 617.8 727.5 617.5 720.0 617.0 C712.5 616.5 708.3 615.7 700.0 614.0 C691.7 612.3 677.7 609.3 670.0 606.6 C662.3 603.9 658.0 601.1 654.0 598.0 C650.0 594.9 648.0 592.7 646.0 588.0 C644.0 583.3 643.3 581.3 642.0 570.0 C640.7 558.7 639.4 536.7 638.0 520.0 C636.6 503.3 634.9 488.3 633.4 470.0 C631.9 451.7 630.1 430.0 629.0 410.0 C627.9 390.0 627.1 369.2 626.6 350.0 C626.1 330.8 626.1 304.2 626.0 295.0" fill="none" stroke="#222222" stroke-width="1.1" />
<path d="M637.0 290.0 C637.1 296.7 637.0 311.7 637.4 330.0 C637.8 348.3 638.7 381.7 639.4 400.0 C640.1 418.3 640.8 432.2 641.6 440.0 C642.4 447.8 642.3 445.3 644.0 447.0 C645.7 448.7 650.7 449.8 652.0 450.4" fill="none" stroke="#222222" stroke-width="1.1" />
<path d="M628.0 175.6 L610.0 186.0 L610.0 207.0" fill="none" stroke="#222222" stroke-width="1.1" />
<path d="M628.0 175.6 C629.0 175.8 632.2 175.7 634.0 176.6 C635.8 177.5 638.2 180.3 639.0 181.0" fill="none" stroke="#222222" stroke-width="1.1" />
<path d="M639.0 182.0 L610.0 202.0" fill="none" stroke="#222222" stroke-width="1.1" />
<path d="M610 196 L605 196 Q603 196 603 198 L603 208" fill="none" stroke="#222222" stroke-width="1.1" />
<path d="M603 264 L603 274 Q603 276 605 276 L610 276" fill="none" stroke="#222222" stroke-width="1.1" />
<path d="M603.4 200.0 C602.8 203.3 600.7 214.0 600.0 220.0 C599.3 226.0 599.2 230.7 599.2 236.0 C599.2 241.3 599.3 246.0 600.0 252.0 C600.7 258.0 602.8 268.7 603.4 272.0" fill="none" stroke="#222222" stroke-width="1.1" />
<line x1="603.0" y1="203.0" x2="610.0" y2="203.0" stroke="#222222" stroke-width="0.8" />
<line x1="603.0" y1="269.0" x2="610.0" y2="269.0" stroke="#222222" stroke-width="0.8" />
<path d="M610.0 262.0 L610.0 285.0 L626.0 295.0" fill="none" stroke="#222222" stroke-width="1.1" />
<path d="M626.0 295.0 C627.0 295.2 630.2 296.8 632.0 296.0 C633.8 295.2 636.7 292.0 637.0 290.0 C637.3 288.0 634.5 285.0 634.0 284.0" fill="none" stroke="#222222" stroke-width="1.1" />
<path d="M634.0 284.0 L611.0 269.0" fill="none" stroke="#222222" stroke-width="1.1" />
<line x1="610.0" y1="207.0" x2="866.0" y2="207.0" stroke="#222222" stroke-width="1.1" />
<line x1="610.0" y1="209.6" x2="866.0" y2="209.6" stroke="#222222" stroke-width="1.1" />
<path d="M641.0 169.6 C642.2 168.3 644.8 164.1 648.0 162.0 C651.2 159.9 654.7 158.2 660.0 157.0 C665.3 155.8 671.7 155.5 680.0 154.8 C688.3 154.1 699.7 153.4 710.0 153.0 C720.3 152.6 730.3 152.4 742.0 152.6 C753.7 152.8 768.7 153.6 780.0 154.4 C791.3 155.2 801.7 156.2 810.0 157.4 C818.3 158.6 824.7 159.6 830.0 161.4 C835.3 163.2 838.7 165.2 842.0 168.0 C845.3 170.8 847.9 174.0 850.0 178.0 C852.1 182.0 853.7 189.7 854.4 192.0" fill="none" stroke="#222222" stroke-width="1.1" />
<path d="M644.0 171.0 C645.3 170.0 648.7 166.7 652.0 165.0 C655.3 163.3 656.0 162.0 664.0 161.0 C672.0 160.0 687.0 159.5 700.0 159.0 C713.0 158.5 728.7 157.8 742.0 158.0 C755.3 158.2 768.7 159.1 780.0 159.9 C791.3 160.7 801.7 161.7 810.0 163.0 C818.3 164.3 824.7 165.8 830.0 168.0 C835.3 170.2 839.0 172.7 842.0 176.0 C845.0 179.3 846.6 183.0 848.0 188.0 C849.4 193.0 850.2 203.0 850.6 206.0" fill="none" stroke="#222222" stroke-width="1.1" />
<rect x="727.5" y="178.5" width="115.5" height="25.0" rx="3" fill="none" stroke="#222222" stroke-width="1.1"/>
<rect x="729.5" y="180.7" width="111.5" height="20.6" rx="2" fill="none" stroke="#222222" stroke-width="0.8"/>
<text x="732.6" y="198.2" font-size="17.6" font-weight="bold" textLength="105" lengthAdjust="spacingAndGlyphs" fill="#fff" stroke="#222" stroke-width="2.2" paint-order="stroke">MotorGuide</text>
<rect x="603.4" y="211.0" width="25.6" height="49.0" rx="0" fill="none" stroke="#222222" stroke-width="1.1"/>
<line x1="603.6" y1="214.6" x2="629.0" y2="214.6" stroke="#555" stroke-width="0.7" />
<line x1="603.6" y1="218.4" x2="629.0" y2="218.4" stroke="#555" stroke-width="0.7" />
<line x1="603.6" y1="222.0" x2="629.0" y2="222.0" stroke="#555" stroke-width="0.7" />
<line x1="603.6" y1="226.0" x2="629.0" y2="226.0" stroke="#555" stroke-width="0.7" />
<line x1="603.6" y1="229.6" x2="629.0" y2="229.6" stroke="#555" stroke-width="0.7" />
<line x1="603.6" y1="233.4" x2="629.0" y2="233.4" stroke="#555" stroke-width="0.7" />
<line x1="603.6" y1="237.0" x2="629.0" y2="237.0" stroke="#555" stroke-width="0.7" />
<line x1="603.6" y1="241.0" x2="629.0" y2="241.0" stroke="#555" stroke-width="0.7" />
<line x1="603.6" y1="245.0" x2="629.0" y2="245.0" stroke="#555" stroke-width="0.7" />
<line x1="603.6" y1="248.6" x2="629.0" y2="248.6" stroke="#555" stroke-width="0.7" />
<line x1="603.6" y1="252.4" x2="629.0" y2="252.4" stroke="#555" stroke-width="0.7" />
<line x1="603.6" y1="256.4" x2="629.0" y2="256.4" stroke="#555" stroke-width="0.7" />
<line x1="603.0" y1="210.6" x2="629.0" y2="210.6" stroke="#555" stroke-width="1.6" />
<line x1="603.0" y1="260.6" x2="629.0" y2="260.6" stroke="#555" stroke-width="1.6" />
<rect x="629.0" y="211.0" width="8.0" height="49.4" rx="0" fill="none" stroke="#222222" stroke-width="1.1"/>
<line x1="631.0" y1="211.0" x2="631.0" y2="260.0" stroke="#222222" stroke-width="0.8" />
<line x1="636.0" y1="213.0" x2="636.0" y2="258.0" stroke="#222222" stroke-width="0.8" />
<rect x="639.4" y="209.6" width="30.2" height="53.4" rx="0" fill="none" stroke="#222222" stroke-width="1.1"/>
<rect x="643.4" y="221.4" width="22.2" height="29.0" rx="0" fill="none" stroke="#222222" stroke-width="1.1"/>
<path d="M648.9 232.2 L651.0 230.1 L653.1 232.2 L651.0 234.3 Z" fill="#222" stroke="none" stroke-width="0" />
<path d="M654.9 232.2 L657.0 230.1 L659.1 232.2 L657.0 234.3 Z" fill="#222" stroke="none" stroke-width="0" />
<path d="M648.9 238.2 L651.0 236.1 L653.1 238.2 L651.0 240.3 Z" fill="#222" stroke="none" stroke-width="0" />
<path d="M654.9 238.2 L657.0 236.1 L659.1 238.2 L657.0 240.3 Z" fill="#222" stroke="none" stroke-width="0" />
<path d="M651.9 235.2 L654.0 233.1 L656.1 235.2 L654.0 237.3 Z" fill="#222" stroke="none" stroke-width="0" />
<path d="M806 209.6 Q801.8 209.8 801.8 214 L801.8 316 Q801.8 321 807.8 321.6" fill="none" stroke="#222222" stroke-width="1.1" />
<line x1="802.0" y1="213.0" x2="802.0" y2="317.0" stroke="#999" stroke-width="1.4" />
<path d="M864 212.4 L808 212.4 Q805.3 212.4 805.3 215 L805.3 316 Q805.3 319 808 319.4" fill="none" stroke="#222222" stroke-width="1.1" />
<line x1="807.8" y1="321.2" x2="845.8" y2="321.2" stroke="#999" stroke-width="3.2" />
<line x1="801.6" y1="224.0" x2="804.0" y2="225.0" stroke="#222222" stroke-width="0.8" />
<line x1="804.0" y1="225.0" x2="804.0" y2="230.0" stroke="#222222" stroke-width="0.8" />
<line x1="801.6" y1="302.0" x2="804.0" y2="303.0" stroke="#222222" stroke-width="0.8" />
<line x1="804.0" y1="303.0" x2="804.0" y2="308.0" stroke="#222222" stroke-width="0.8" />
<circle cx="825.2" cy="248.7" r="10.90" fill="none" stroke="#222222" stroke-width="0.9"/>
<circle cx="825.2" cy="248.7" r="5.40" fill="none" stroke="#222222" stroke-width="0.9"/>
<path d="M847.3 212.8 C847.5 214.8 848.1 218.8 848.6 225.0 C849.1 231.2 849.5 240.2 850.0 250.0 C850.5 259.8 851.4 278.2 851.7 283.9" fill="none" stroke="#222222" stroke-width="1.1" />
<path d="M853.2 212.8 C853.5 214.8 854.6 218.5 855.2 224.7 C855.8 230.9 856.3 240.9 856.8 250.0 C857.3 259.1 857.9 274.2 858.1 279.0" fill="none" stroke="#222222" stroke-width="1.1" />
<path d="M858.1 213.3 C858.5 214.4 860.0 215.2 860.6 219.7 C861.2 224.1 861.4 231.8 861.8 240.0 C862.2 248.2 862.9 263.0 863.0 269.0 C863.1 275.0 862.9 274.2 862.6 276.0 C862.3 277.8 861.9 278.9 861.0 280.0 C860.1 281.1 858.6 281.6 857.0 282.4 C855.4 283.2 853.2 283.7 851.2 284.9 C849.2 286.1 846.9 287.7 845.3 289.8 C843.6 291.9 842.1 295.2 841.3 297.7 C840.5 300.2 840.5 301.0 840.3 304.6 C840.1 308.2 840.3 316.9 840.3 319.4" fill="none" stroke="#222222" stroke-width="1.1" />
<path d="M651 324.6 L823 324.6 Q825.2 324.6 825.1 327 L820.2 450.4 L652 450.4 L648.2 327 Q648.2 324.6 651 324.6 Z" fill="none" stroke="#222222" stroke-width="1.1" />
<path d="M649.4 325.6 L661 325.6 L661 366.4 Q661 367.6 659.6 367.6 L650.6 367.6" fill="none" stroke="#222222" stroke-width="1.1" />
<line x1="663.4" y1="325.0" x2="663.4" y2="366.0" stroke="#222222" stroke-width="0.8" />
<line x1="649.6" y1="326.0" x2="650.6" y2="367.0" stroke="#222" stroke-width="2" />
<circle cx="654.6" cy="331.4" r="3.40" fill="#222" stroke="#222222" stroke-width="0"/>
<circle cx="654.6" cy="346.6" r="3.10" fill="none" stroke="#222222" stroke-width="1.0"/>
<circle cx="654.6" cy="360.2" r="3.40" fill="#222" stroke="#222222" stroke-width="0"/>
<line x1="653.4" y1="360.4" x2="655.8" y2="360.4" stroke="#888" stroke-width="0.8" />
<path d="M628 328 Q628 326.6 630 326.6 L631.6 326.6 Q633 326.6 633 328 L633.4 362" fill="none" stroke="#222222" stroke-width="0.9" />
<line x1="628.4" y1="328.0" x2="629.0" y2="360.0" stroke="#777" stroke-width="1.6" />
<circle cx="629.6" cy="366.0" r="3.60" fill="none" stroke="#222222" stroke-width="0.9"/>
<circle cx="670.1" cy="336.6" r="6.50" fill="none" stroke="#222222" stroke-width="1.0"/>
<circle cx="689.0" cy="336.6" r="6.50" fill="none" stroke="#222222" stroke-width="1.0"/>
<circle cx="707.8" cy="336.6" r="6.50" fill="none" stroke="#222222" stroke-width="1.0"/>
<circle cx="726.6" cy="336.6" r="6.50" fill="none" stroke="#222222" stroke-width="1.0"/>
<circle cx="745.5" cy="336.6" r="6.50" fill="none" stroke="#222222" stroke-width="1.0"/>
<circle cx="764.4" cy="336.6" r="6.50" fill="none" stroke="#222222" stroke-width="1.0"/>
<circle cx="783.2" cy="336.6" r="6.50" fill="none" stroke="#222222" stroke-width="1.0"/>
<circle cx="802.1" cy="336.6" r="6.50" fill="none" stroke="#222222" stroke-width="1.0"/>
<circle cx="679.5" cy="350.0" r="6.50" fill="none" stroke="#222222" stroke-width="1.0"/>
<circle cx="698.4" cy="350.0" r="6.50" fill="none" stroke="#222222" stroke-width="1.0"/>
<circle cx="717.2" cy="350.0" r="6.50" fill="none" stroke="#222222" stroke-width="1.0"/>
<circle cx="736.1" cy="350.0" r="6.50" fill="none" stroke="#222222" stroke-width="1.0"/>
<circle cx="754.9" cy="350.0" r="6.50" fill="none" stroke="#222222" stroke-width="1.0"/>
<circle cx="773.8" cy="350.0" r="6.50" fill="none" stroke="#222222" stroke-width="1.0"/>
<circle cx="792.6" cy="350.0" r="6.50" fill="none" stroke="#222222" stroke-width="1.0"/>
<circle cx="811.5" cy="350.0" r="6.50" fill="none" stroke="#222222" stroke-width="1.0"/>
<circle cx="670.1" cy="363.4" r="6.50" fill="none" stroke="#222222" stroke-width="1.0"/>
<circle cx="689.0" cy="363.4" r="6.50" fill="none" stroke="#222222" stroke-width="1.0"/>
<circle cx="707.8" cy="363.4" r="6.50" fill="none" stroke="#222222" stroke-width="1.0"/>
<circle cx="726.6" cy="363.4" r="6.50" fill="none" stroke="#222222" stroke-width="1.0"/>
<circle cx="745.5" cy="363.4" r="6.50" fill="none" stroke="#222222" stroke-width="1.0"/>
<circle cx="764.4" cy="363.4" r="6.50" fill="none" stroke="#222222" stroke-width="1.0"/>
<circle cx="783.2" cy="363.4" r="6.50" fill="none" stroke="#222222" stroke-width="1.0"/>
<circle cx="802.1" cy="363.4" r="6.50" fill="none" stroke="#222222" stroke-width="1.0"/>
<circle cx="660.7" cy="376.9" r="6.50" fill="none" stroke="#222222" stroke-width="1.0"/>
<circle cx="679.5" cy="376.9" r="6.50" fill="none" stroke="#222222" stroke-width="1.0"/>
<circle cx="698.4" cy="376.9" r="6.50" fill="none" stroke="#222222" stroke-width="1.0"/>
<circle cx="717.2" cy="376.9" r="6.50" fill="none" stroke="#222222" stroke-width="1.0"/>
<circle cx="736.1" cy="376.9" r="6.50" fill="none" stroke="#222222" stroke-width="1.0"/>
<circle cx="754.9" cy="376.9" r="6.50" fill="none" stroke="#222222" stroke-width="1.0"/>
<circle cx="773.8" cy="376.9" r="6.50" fill="none" stroke="#222222" stroke-width="1.0"/>
<circle cx="792.6" cy="376.9" r="6.50" fill="none" stroke="#222222" stroke-width="1.0"/>
<circle cx="811.5" cy="376.9" r="6.50" fill="none" stroke="#222222" stroke-width="1.0"/>
<circle cx="670.1" cy="390.3" r="6.50" fill="none" stroke="#222222" stroke-width="1.0"/>
<circle cx="689.0" cy="390.3" r="6.50" fill="none" stroke="#222222" stroke-width="1.0"/>
<circle cx="707.8" cy="390.3" r="6.50" fill="none" stroke="#222222" stroke-width="1.0"/>
<circle cx="726.6" cy="390.3" r="6.50" fill="none" stroke="#222222" stroke-width="1.0"/>
<circle cx="745.5" cy="390.3" r="6.50" fill="none" stroke="#222222" stroke-width="1.0"/>
<circle cx="764.4" cy="390.3" r="6.50" fill="none" stroke="#222222" stroke-width="1.0"/>
<circle cx="783.2" cy="390.3" r="6.50" fill="none" stroke="#222222" stroke-width="1.0"/>
<circle cx="802.1" cy="390.3" r="6.50" fill="none" stroke="#222222" stroke-width="1.0"/>
<circle cx="660.7" cy="403.7" r="6.50" fill="none" stroke="#222222" stroke-width="1.0"/>
<circle cx="679.5" cy="403.7" r="6.50" fill="none" stroke="#222222" stroke-width="1.0"/>
<circle cx="698.4" cy="403.7" r="6.50" fill="none" stroke="#222222" stroke-width="1.0"/>
<circle cx="717.2" cy="403.7" r="6.50" fill="none" stroke="#222222" stroke-width="1.0"/>
<circle cx="736.1" cy="403.7" r="6.50" fill="none" stroke="#222222" stroke-width="1.0"/>
<circle cx="754.9" cy="403.7" r="6.50" fill="none" stroke="#222222" stroke-width="1.0"/>
<circle cx="773.8" cy="403.7" r="6.50" fill="none" stroke="#222222" stroke-width="1.0"/>
<circle cx="792.6" cy="403.7" r="6.50" fill="none" stroke="#222222" stroke-width="1.0"/>
<circle cx="811.5" cy="403.7" r="6.50" fill="none" stroke="#222222" stroke-width="1.0"/>
<circle cx="670.1" cy="417.1" r="6.50" fill="none" stroke="#222222" stroke-width="1.0"/>
<circle cx="689.0" cy="417.1" r="6.50" fill="none" stroke="#222222" stroke-width="1.0"/>
<circle cx="707.8" cy="417.1" r="6.50" fill="none" stroke="#222222" stroke-width="1.0"/>
<circle cx="726.6" cy="417.1" r="6.50" fill="none" stroke="#222222" stroke-width="1.0"/>
<circle cx="745.5" cy="417.1" r="6.50" fill="none" stroke="#222222" stroke-width="1.0"/>
<circle cx="764.4" cy="417.1" r="6.50" fill="none" stroke="#222222" stroke-width="1.0"/>
<circle cx="783.2" cy="417.1" r="6.50" fill="none" stroke="#222222" stroke-width="1.0"/>
<circle cx="802.1" cy="417.1" r="6.50" fill="none" stroke="#222222" stroke-width="1.0"/>
<circle cx="660.7" cy="430.5" r="6.50" fill="none" stroke="#222222" stroke-width="1.0"/>
<circle cx="679.5" cy="430.5" r="6.50" fill="none" stroke="#222222" stroke-width="1.0"/>
<circle cx="698.4" cy="430.5" r="6.50" fill="none" stroke="#222222" stroke-width="1.0"/>
<circle cx="717.2" cy="430.5" r="6.50" fill="none" stroke="#222222" stroke-width="1.0"/>
<circle cx="736.1" cy="430.5" r="6.50" fill="none" stroke="#222222" stroke-width="1.0"/>
<circle cx="754.9" cy="430.5" r="6.50" fill="none" stroke="#222222" stroke-width="1.0"/>
<circle cx="773.8" cy="430.5" r="6.50" fill="none" stroke="#222222" stroke-width="1.0"/>
<circle cx="792.6" cy="430.5" r="6.50" fill="none" stroke="#222222" stroke-width="1.0"/>
<circle cx="811.5" cy="430.5" r="6.50" fill="none" stroke="#222222" stroke-width="1.0"/>
<circle cx="670.1" cy="444.0" r="6.50" fill="none" stroke="#222222" stroke-width="1.0"/>
<circle cx="689.0" cy="444.0" r="6.50" fill="none" stroke="#222222" stroke-width="1.0"/>
<circle cx="707.8" cy="444.0" r="6.50" fill="none" stroke="#222222" stroke-width="1.0"/>
<circle cx="726.6" cy="444.0" r="6.50" fill="none" stroke="#222222" stroke-width="1.0"/>
<circle cx="745.5" cy="444.0" r="6.50" fill="none" stroke="#222222" stroke-width="1.0"/>
<circle cx="764.4" cy="444.0" r="6.50" fill="none" stroke="#222222" stroke-width="1.0"/>
<circle cx="783.2" cy="444.0" r="6.50" fill="none" stroke="#222222" stroke-width="1.0"/>
<circle cx="802.1" cy="444.0" r="6.50" fill="none" stroke="#222222" stroke-width="1.0"/>
<circle cx="670.1" cy="465.5" r="6.50" fill="none" stroke="#222222" stroke-width="1.0"/>
<circle cx="689.0" cy="465.5" r="6.50" fill="none" stroke="#222222" stroke-width="1.0"/>
<circle cx="707.8" cy="465.5" r="6.50" fill="none" stroke="#222222" stroke-width="1.0"/>
<circle cx="726.6" cy="465.5" r="6.50" fill="none" stroke="#222222" stroke-width="1.0"/>
<circle cx="745.5" cy="465.5" r="6.50" fill="none" stroke="#222222" stroke-width="1.0"/>
<circle cx="764.4" cy="465.5" r="6.50" fill="none" stroke="#222222" stroke-width="1.0"/>
<circle cx="783.2" cy="465.5" r="6.50" fill="none" stroke="#222222" stroke-width="1.0"/>
<circle cx="802.1" cy="465.5" r="6.50" fill="none" stroke="#222222" stroke-width="1.0"/>
<circle cx="679.5" cy="478.9" r="6.50" fill="none" stroke="#222222" stroke-width="1.0"/>
<circle cx="698.4" cy="478.9" r="6.50" fill="none" stroke="#222222" stroke-width="1.0"/>
<circle cx="717.2" cy="478.9" r="6.50" fill="none" stroke="#222222" stroke-width="1.0"/>
<circle cx="736.1" cy="478.9" r="6.50" fill="none" stroke="#222222" stroke-width="1.0"/>
<circle cx="754.9" cy="478.9" r="6.50" fill="none" stroke="#222222" stroke-width="1.0"/>
<circle cx="773.8" cy="478.9" r="6.50" fill="none" stroke="#222222" stroke-width="1.0"/>
<circle cx="792.6" cy="478.9" r="6.50" fill="none" stroke="#222222" stroke-width="1.0"/>
<circle cx="670.1" cy="492.3" r="6.50" fill="none" stroke="#222222" stroke-width="1.0"/>
<circle cx="689.0" cy="492.3" r="6.50" fill="none" stroke="#222222" stroke-width="1.0"/>
<circle cx="707.8" cy="492.3" r="6.50" fill="none" stroke="#222222" stroke-width="1.0"/>
<circle cx="726.6" cy="492.3" r="6.50" fill="none" stroke="#222222" stroke-width="1.0"/>
<circle cx="745.5" cy="492.3" r="6.50" fill="none" stroke="#222222" stroke-width="1.0"/>
<circle cx="764.4" cy="492.3" r="6.50" fill="none" stroke="#222222" stroke-width="1.0"/>
<circle cx="783.2" cy="492.3" r="6.50" fill="none" stroke="#222222" stroke-width="1.0"/>
<circle cx="802.1" cy="492.3" r="6.50" fill="none" stroke="#222222" stroke-width="1.0"/>
<circle cx="679.5" cy="505.8" r="6.50" fill="none" stroke="#222222" stroke-width="1.0"/>
<circle cx="698.4" cy="505.8" r="6.50" fill="none" stroke="#222222" stroke-width="1.0"/>
<circle cx="717.2" cy="505.8" r="6.50" fill="none" stroke="#222222" stroke-width="1.0"/>
<circle cx="736.1" cy="505.8" r="6.50" fill="none" stroke="#222222" stroke-width="1.0"/>
<circle cx="754.9" cy="505.8" r="6.50" fill="none" stroke="#222222" stroke-width="1.0"/>
<circle cx="773.8" cy="505.8" r="6.50" fill="none" stroke="#222222" stroke-width="1.0"/>
<circle cx="792.6" cy="505.8" r="6.50" fill="none" stroke="#222222" stroke-width="1.0"/>
<circle cx="670.1" cy="519.2" r="6.50" fill="none" stroke="#222222" stroke-width="1.0"/>
<circle cx="689.0" cy="519.2" r="6.50" fill="none" stroke="#222222" stroke-width="1.0"/>
<circle cx="707.8" cy="519.2" r="6.50" fill="none" stroke="#222222" stroke-width="1.0"/>
<circle cx="726.6" cy="519.2" r="6.50" fill="none" stroke="#222222" stroke-width="1.0"/>
<circle cx="745.5" cy="519.2" r="6.50" fill="none" stroke="#222222" stroke-width="1.0"/>
<circle cx="764.4" cy="519.2" r="6.50" fill="none" stroke="#222222" stroke-width="1.0"/>
<circle cx="783.2" cy="519.2" r="6.50" fill="none" stroke="#222222" stroke-width="1.0"/>
<circle cx="802.1" cy="519.2" r="6.50" fill="none" stroke="#222222" stroke-width="1.0"/>
<circle cx="679.5" cy="532.6" r="6.50" fill="none" stroke="#222222" stroke-width="1.0"/>
<circle cx="698.4" cy="532.6" r="6.50" fill="none" stroke="#222222" stroke-width="1.0"/>
<circle cx="717.2" cy="532.6" r="6.50" fill="none" stroke="#222222" stroke-width="1.0"/>
<circle cx="736.1" cy="532.6" r="6.50" fill="none" stroke="#222222" stroke-width="1.0"/>
<circle cx="754.9" cy="532.6" r="6.50" fill="none" stroke="#222222" stroke-width="1.0"/>
<circle cx="773.8" cy="532.6" r="6.50" fill="none" stroke="#222222" stroke-width="1.0"/>
<circle cx="792.6" cy="532.6" r="6.50" fill="none" stroke="#222222" stroke-width="1.0"/>
<circle cx="670.1" cy="546.0" r="6.50" fill="none" stroke="#222222" stroke-width="1.0"/>
<circle cx="689.0" cy="546.0" r="6.50" fill="none" stroke="#222222" stroke-width="1.0"/>
<circle cx="707.8" cy="546.0" r="6.50" fill="none" stroke="#222222" stroke-width="1.0"/>
<circle cx="726.6" cy="546.0" r="6.50" fill="none" stroke="#222222" stroke-width="1.0"/>
<circle cx="745.5" cy="546.0" r="6.50" fill="none" stroke="#222222" stroke-width="1.0"/>
<circle cx="764.4" cy="546.0" r="6.50" fill="none" stroke="#222222" stroke-width="1.0"/>
<circle cx="783.2" cy="546.0" r="6.50" fill="none" stroke="#222222" stroke-width="1.0"/>
<circle cx="802.1" cy="546.0" r="6.50" fill="none" stroke="#222222" stroke-width="1.0"/>
<circle cx="679.5" cy="559.4" r="6.50" fill="none" stroke="#222222" stroke-width="1.0"/>
<circle cx="792.6" cy="559.4" r="6.50" fill="none" stroke="#222222" stroke-width="1.0"/>
<circle cx="689.0" cy="572.9" r="6.50" fill="none" stroke="#222222" stroke-width="1.0"/>
<circle cx="707.8" cy="572.9" r="6.50" fill="none" stroke="#222222" stroke-width="1.0"/>
<circle cx="726.7" cy="572.9" r="6.50" fill="none" stroke="#222222" stroke-width="1.0"/>
<circle cx="745.5" cy="572.9" r="6.50" fill="none" stroke="#222222" stroke-width="1.0"/>
<circle cx="764.4" cy="572.9" r="6.50" fill="none" stroke="#222222" stroke-width="1.0"/>
<circle cx="783.2" cy="572.9" r="6.50" fill="none" stroke="#222222" stroke-width="1.0"/>
<text x="696" y="564.4" font-size="13.4" font-weight="bold" font-style="italic" textLength="79" lengthAdjust="spacingAndGlyphs" fill="#fff" stroke="#222" stroke-width="1.6" paint-order="stroke">MARINE</text>
<path d="M832.4 419.0 C832.3 421.8 832.4 431.8 832.0 436.0 C831.6 440.2 831.0 441.9 830.0 444.0 C829.0 446.1 827.7 447.5 826.0 448.6 C824.3 449.7 821.0 450.1 820.0 450.4" fill="none" stroke="#222222" stroke-width="1.1" />
<path d="M653.0 451.0 C653.5 459.2 654.8 483.5 656.0 500.0 C657.2 516.5 658.9 538.3 660.0 550.0 C661.1 561.7 661.6 565.6 662.4 570.0 C663.2 574.4 663.6 574.8 665.0 576.6 C666.4 578.4 665.2 579.2 671.0 581.0 C676.8 582.8 690.5 585.9 700.0 587.4 C709.5 588.9 723.3 589.7 728.0 590.2" fill="none" stroke="#222222" stroke-width="1.1" />
<path d="M820.0 451.0 C819.6 459.2 818.5 483.5 817.4 500.0 C816.3 516.5 814.5 538.3 813.4 550.0 C812.3 561.7 811.7 565.5 810.6 570.0 C809.5 574.5 808.8 575.1 807.0 577.0 C805.2 578.9 804.5 580.1 800.0 581.6 C795.5 583.1 789.5 584.5 780.0 586.0 C770.5 587.5 749.2 589.7 743.0 590.4" fill="none" stroke="#222222" stroke-width="1.1" />
<line x1="728.0" y1="590.2" x2="743.0" y2="590.4" stroke="#222222" stroke-width="1.1" />
<path d="M647.0 453.0 C647.7 464.2 649.6 501.2 651.0 520.0 C652.4 538.8 654.4 556.5 655.6 566.0 C656.8 575.5 656.6 574.0 658.0 577.0 C659.4 580.0 657.0 581.1 664.0 584.0 C671.0 586.9 689.3 592.2 700.0 594.4 C710.7 596.6 723.3 596.9 728.0 597.4" fill="none" stroke="#222222" stroke-width="1.1" />
<path d="M825.0 452.0 C824.3 463.3 822.4 501.0 821.0 520.0 C819.6 539.0 817.8 556.5 816.6 566.0 C815.4 575.5 815.0 574.2 813.6 577.0 C812.2 579.8 813.6 580.5 808.0 583.0 C802.4 585.5 790.8 589.6 780.0 592.0 C769.2 594.4 749.2 596.3 743.0 597.2" fill="none" stroke="#222222" stroke-width="1.1" />
<path d="M642.0 447.0 C642.7 459.2 644.6 500.2 646.0 520.0 C647.4 539.8 649.4 556.3 650.6 566.0 C651.8 575.7 651.8 574.3 653.4 578.0 C655.0 581.7 652.2 584.4 660.0 588.0 C667.8 591.6 688.7 597.2 700.0 599.6 C711.3 602.0 723.3 602.1 728.0 602.6" fill="none" stroke="#222222" stroke-width="1.1" />
<path d="M831.4 440.0 C830.7 453.3 828.6 499.0 827.0 520.0 C825.4 541.0 823.1 556.3 821.6 566.0 C820.1 575.7 819.6 574.6 818.0 578.0 C816.4 581.4 818.3 583.4 812.0 586.6 C805.7 589.8 791.5 594.4 780.0 597.0 C768.5 599.6 749.2 601.5 743.0 602.4" fill="none" stroke="#222222" stroke-width="1.1" />
<path d="M728 596 L729.6 610 Q729.8 611.4 731.4 611.4 L739.6 611.4 Q741.2 611.4 741.4 610 L743 596" fill="none" stroke="#222222" stroke-width="1.1" />
<line x1="730.2" y1="596.6" x2="730.2" y2="611.0" stroke="#222222" stroke-width="0.8" />
<line x1="740.8" y1="596.6" x2="740.8" y2="611.0" stroke="#222222" stroke-width="0.8" />
</g>
<g id="wiring">
<text x="263.6" y="731.0" font-size="12.5" fill="#3a3a3a" font-weight="normal" font-style="normal" textLength="130.8" lengthAdjust="spacingAndGlyphs" >12V WIRING DIAGRAM</text>
<line x1="251.6" y1="733.6" x2="500.0" y2="733.6" stroke="#222222" stroke-width="1.1" />
<line x1="257.0" y1="736.2" x2="493.0" y2="736.2" stroke="#222222" stroke-width="1.1" />
<text x="247.0" y="764.0" font-size="10.6" fill="#3a3a3a" font-weight="normal" font-style="normal" textLength="65.4" lengthAdjust="spacingAndGlyphs" >FOOT PEDAL</text>
<text x="384.4" y="766.4" font-size="10.6" fill="#3a3a3a" font-weight="normal" font-style="normal" textLength="68.6" lengthAdjust="spacingAndGlyphs" >TOP HOUSING</text>
<text x="55.0" y="786.8" font-size="9.7" fill="#3a3a3a" font-weight="normal" font-style="normal" textLength="78.0" lengthAdjust="spacingAndGlyphs" >BLACK TO BATTERY</text>
<text x="319.0" y="789.4" font-size="10" fill="#3a3a3a" font-weight="normal" font-style="normal" textLength="31.0" lengthAdjust="spacingAndGlyphs" >BLACK</text>
<text x="451.0" y="786.4" font-size="10" fill="#3a3a3a" font-weight="normal" font-style="normal" textLength="82.4" lengthAdjust="spacingAndGlyphs" >BLACK TO MOTOR</text>
<line x1="48.0" y1="790.4" x2="522.0" y2="790.4" stroke="#222222" stroke-width="1.1" />
<rect x="243.4" y="787.6" width="13.6" height="5.2" rx="0.5" fill="#2a2a2a" stroke="#222222" stroke-width="0"/>
<rect x="387.2" y="787.6" width="13.8" height="5.2" rx="0.5" fill="#2a2a2a" stroke="#222222" stroke-width="0"/>
<line x1="365.6" y1="749.4" x2="365.6" y2="963.6" stroke="#222222" stroke-width="1.1" />
<text x="328.6" y="863.0" font-size="10" fill="#3a3a3a" font-weight="normal" font-style="normal" textLength="24.4" lengthAdjust="spacingAndGlyphs" >BLUE</text>
<text x="328.0" y="884.4" font-size="8.8" fill="#3a3a3a" font-weight="normal" font-style="normal" textLength="32.0" lengthAdjust="spacingAndGlyphs" >YELLOW</text>
<text x="330.0" y="907.0" font-size="9.4" fill="#3a3a3a" font-weight="normal" font-style="normal" textLength="18.0" lengthAdjust="spacingAndGlyphs" >RED</text>
<line x1="317.0" y1="866.6" x2="515.0" y2="866.6" stroke="#222222" stroke-width="1.1" />
<line x1="317.0" y1="887.4" x2="515.0" y2="887.4" stroke="#222222" stroke-width="1.1" />
<line x1="247.4" y1="907.6" x2="515.0" y2="907.6" stroke="#222222" stroke-width="1.1" />
<rect x="383.2" y="863.9" width="14.8" height="5.4" rx="2" fill="#2a2a2a" stroke="#222222" stroke-width="0"/>
<rect x="383.2" y="884.7" width="14.8" height="5.4" rx="2" fill="#2a2a2a" stroke="#222222" stroke-width="0"/>
<rect x="383.2" y="905.3" width="14.8" height="5.4" rx="2" fill="#2a2a2a" stroke="#222222" stroke-width="0"/>
<text x="480.6" y="863.0" font-size="10" fill="#3a3a3a" font-weight="normal" font-style="normal" textLength="24.4" lengthAdjust="spacingAndGlyphs" >BLUE</text>
<text x="476.0" y="885.2" font-size="10.4" fill="#3a3a3a" font-weight="normal" font-style="normal" textLength="41.0" lengthAdjust="spacingAndGlyphs" >YELLOW</text>
<text x="481.6" y="905.0" font-size="12.5" fill="#3a3a3a" font-weight="normal" font-style="normal" textLength="24.4" lengthAdjust="spacingAndGlyphs" >RED</text>
<text x="53.0" y="886.0" font-size="12.5" fill="#3a3a3a" font-weight="normal" font-style="normal" textLength="26.0" lengthAdjust="spacingAndGlyphs" >RED</text>
<line x1="47.0" y1="888.4" x2="128.0" y2="888.4" stroke="#222222" stroke-width="1.1" />
<path d="M127.6 884.6 L130.4 884.6 L130.4 882.2 L138.6 882.2 L138.6 884.6 L141.4 884.6 L141.4 892.6 L138.6 892.6 L138.6 895.4 L130.4 895.4 L130.4 892.6 L127.6 892.6 Z" fill="none" stroke="#222222" stroke-width="1.4" />
<circle cx="134.4" cy="888.8" r="1.30" fill="#333" stroke="#222222" stroke-width="0.8"/>
<path d="M141.6 888.4 L187.6 888.4 L187.6 848.0" fill="none" stroke="#222222" stroke-width="1.1" />
<rect x="160.4" y="834.4" width="53.2" height="19.0" rx="2.2" fill="none" stroke="#222222" stroke-width="1.1"/>
<line x1="177.6" y1="834.4" x2="177.6" y2="853.4" stroke="#222222" stroke-width="1" />
<line x1="180.4" y1="834.4" x2="180.4" y2="853.4" stroke="#222222" stroke-width="1" />
<line x1="193.6" y1="834.4" x2="193.6" y2="853.4" stroke="#222222" stroke-width="1" />
<line x1="196.4" y1="834.4" x2="196.4" y2="853.4" stroke="#222222" stroke-width="1" />
<circle cx="165.6" cy="844.0" r="3.30" fill="none" stroke="#222222" stroke-width="1.3"/>
<line x1="163.3" y1="841.9" x2="167.9" y2="846.1" stroke="#222222" stroke-width="2.1" />
<circle cx="187.2" cy="844.0" r="3.30" fill="none" stroke="#222222" stroke-width="1.3"/>
<line x1="184.9" y1="841.9" x2="189.5" y2="846.1" stroke="#222222" stroke-width="2.1" />
<circle cx="208.0" cy="844.0" r="3.30" fill="none" stroke="#222222" stroke-width="1.3"/>
<line x1="205.7" y1="841.9" x2="210.3" y2="846.1" stroke="#222222" stroke-width="2.1" />
<text x="182.0" y="831.6" font-size="4" fill="#666" font-weight="normal" font-style="normal" textLength="7.6" lengthAdjust="spacingAndGlyphs" >NO</text>
<text x="153.0" y="846.0" font-size="4" fill="#666" font-weight="normal" font-style="normal" textLength="3.0" lengthAdjust="spacingAndGlyphs" >C</text>
<text x="218.0" y="846.0" font-size="4" fill="#666" font-weight="normal" font-style="normal" textLength="7.0" lengthAdjust="spacingAndGlyphs" >NC</text>
<text x="126.0" y="862.4" font-size="9.5" fill="#3a3a3a" font-weight="normal" font-style="normal" textLength="66.0" lengthAdjust="spacingAndGlyphs" >MICRO SWITCH</text>
<path d="M165.6 840.5 L165.6 820.2 L247.4 820.2 L247.4 861.4 L271.0 861.4" fill="none" stroke="#222222" stroke-width="1.1" />
<text x="144.6" y="900.0" font-size="9.7" fill="#3a3a3a" font-weight="normal" font-style="normal" textLength="75.0" lengthAdjust="spacingAndGlyphs" >TOGGLE SWITCH</text>
<rect x="164.4" y="904.4" width="46.0" height="26.2" rx="0" fill="none" stroke="#222222" stroke-width="1.1"/>
<rect x="173.4" y="905.0" width="27.2" height="25.0" rx="0" fill="none" stroke="#222222" stroke-width="1.3"/>
<line x1="173.4" y1="906.6" x2="200.6" y2="906.6" stroke="#222222" stroke-width="0.8" />
<path d="M173.8 920.6 L177.6 927.4 L176.4 929.6 L173.8 929.6 Z" fill="#2a2a2a" stroke="#222222" stroke-width="0.8" />
<path d="M200.2 920.6 L196.4 927.4 L197.6 929.6 L200.2 929.6 Z" fill="#2a2a2a" stroke="#222222" stroke-width="0.8" />
<path d="M177.6 927.6 L184.0 927.6 L185.0 926.2 L189.6 926.2 L190.6 927.6 L196.4 927.6" fill="none" stroke="#222222" stroke-width="1.1" />
<line x1="173.8" y1="929.6" x2="200.2" y2="929.6" stroke="#222222" stroke-width="1.8" />
<path d="M134.4 895.6 L134.4 949.2 L175.6 949.2 L175.6 930.6" fill="none" stroke="#222222" stroke-width="1.1" />
<path d="M187.6 930.6 L187.6 962.4 L235.6 962.4 L235.6 891.6 L271.0 891.6" fill="none" stroke="#222222" stroke-width="1.1" />
<path d="M198.6 930.6 L198.6 949.2 L222.6 949.2 L222.6 881.4 L271.0 881.4" fill="none" stroke="#222222" stroke-width="1.1" />
<path d="M271.0 871.6 L247.4 871.6 L247.4 907.6" fill="none" stroke="#222222" stroke-width="1.1" />
<text x="255.0" y="853.4" font-size="8.8" fill="#3a3a3a" font-weight="normal" font-style="normal" textLength="64.4" lengthAdjust="spacingAndGlyphs" >ROTARY SWITCH</text>
<rect x="270.4" y="857.6" width="43.6" height="38.0" rx="2.5" fill="none" stroke="#222222" stroke-width="1.1"/>
<line x1="296.6" y1="857.6" x2="296.6" y2="895.6" stroke="#222222" stroke-width="1" />
<rect x="314.0" y="859.6" width="3.0" height="34.0" rx="0.5" fill="none" stroke="#222222" stroke-width="0.9"/>
<rect x="314.6" y="860.6" width="1.6" height="3.0" rx="0" fill="none" stroke="#222222" stroke-width="0.6"/>
<rect x="314.6" y="889.6" width="1.6" height="3.0" rx="0" fill="none" stroke="#222222" stroke-width="0.6"/>
<rect x="316.6" y="873.0" width="1.2" height="7.0" rx="0" fill="#333" stroke="#222222" stroke-width="0"/>
<path d="M273.0 864.4 L291.6 864.4 L291.6 888.4 L273.0 888.4" fill="none" stroke="#222222" stroke-width="0.9" />
<rect x="272.4" y="859.6" width="8.6" height="3.0" rx="0.6" fill="none" stroke="#222222" stroke-width="0.9"/>
<line x1="274.0" y1="861.2" x2="280.6" y2="861.2" stroke="#222222" stroke-width="1.6" />
<rect x="272.4" y="890.4" width="8.6" height="3.0" rx="0.6" fill="none" stroke="#222222" stroke-width="0.9"/>
<line x1="274.0" y1="892.0" x2="280.6" y2="892.0" stroke="#222222" stroke-width="1.6" />
<rect x="272.6" y="868.4" width="10.0" height="4.0" rx="2" fill="none" stroke="#222222" stroke-width="1.3"/>
<rect x="272.6" y="879.2" width="10.0" height="4.0" rx="2" fill="none" stroke="#222222" stroke-width="1.3"/>
<rect x="276.4" y="872.0" width="2.6" height="7.6" rx="0" fill="none" stroke="#222222" stroke-width="1.1"/>
<line x1="273.0" y1="870.4" x2="282.0" y2="870.4" stroke="#222222" stroke-width="0.8" />
<line x1="273.0" y1="881.2" x2="282.0" y2="881.2" stroke="#222222" stroke-width="0.8" />
<text x="284.6" y="862.8" font-size="3.6" fill="#666" font-weight="normal" font-style="normal" >3</text>
<text x="284.6" y="872.8" font-size="3.6" fill="#666" font-weight="normal" font-style="normal" >2</text>
<text x="284.6" y="883.8" font-size="3.6" fill="#666" font-weight="normal" font-style="normal" >4</text>
<text x="284.6" y="893.8" font-size="3.6" fill="#666" font-weight="normal" font-style="normal" >1</text>
<text x="302.0" y="868.0" font-size="3.6" fill="#666" font-weight="normal" font-style="normal" >M</text>
<rect x="308.0" y="863.6" width="2.6" height="7.0" rx="1" fill="#2a2a2a" stroke="#222222" stroke-width="0"/>
<rect x="308.0" y="883.6" width="2.6" height="7.0" rx="1" fill="#2a2a2a" stroke="#222222" stroke-width="0"/>
<line x1="310.0" y1="866.6" x2="317.0" y2="866.6" stroke="#222222" stroke-width="1" />
<line x1="310.0" y1="887.4" x2="317.0" y2="887.4" stroke="#222222" stroke-width="1" />
</g>
<g id="cables">
<path d="M117.4 1123.0 L53.0 1123.0 L45.0 1128.0 L45.0 1131.6 L46.2 1129.6 L47.8 1132.4 L49.5 1129.6 L51.1 1132.4 L52.8 1129.6 L54.4 1132.4 L56.1 1129.6 L57.7 1132.4 L59.4 1129.6 L61.0 1132.4 L62.7 1129.6 L64.3 1132.4 L66.0 1129.6 L67.6 1132.4 L69.3 1129.6 L70.9 1132.4 L72.6 1129.6 L74.2 1132.4 L75.9 1129.6 L77.5 1132.4 L79.2 1129.6 L80.8 1132.4 L82.4 1129.6 L84.0 1132.4 L85.7 1129.6 L87.3 1132.4 L89.0 1129.6 L90.6 1132.4 L92.3 1129.6 L93.9 1132.4 L95.6 1129.6 L97.2 1132.4 L98.9 1129.6 L100.5 1132.4 L102.2 1129.6 L103.8 1132.4 L105.5 1129.6 L107.1 1132.4 L108.8 1129.6 L110.4 1132.4 L112.1 1129.6 L113.7 1132.4 L115.4 1129.6 L117.0 1132.4 L117.4 1130.0 Z" fill="none" stroke="#222222" stroke-width="1.1" />
<rect x="200.4" y="1111.4" width="206.0" height="19.6" rx="0" fill="#fff" stroke="#222222" stroke-width="1.1"/>
<line x1="200.4" y1="1111.8" x2="406.4" y2="1111.8" stroke="#222222" stroke-width="1.8" />
<line x1="200.4" y1="1129.8" x2="406.4" y2="1129.8" stroke="#222222" stroke-width="2.6" />
<line x1="200.4" y1="1114.8" x2="406.4" y2="1114.8" stroke="#222222" stroke-width="0.9" />
<line x1="200.4" y1="1118.6" x2="406.4" y2="1118.6" stroke="#222222" stroke-width="0.9" />
<line x1="200.4" y1="1125.2" x2="406.4" y2="1125.2" stroke="#222222" stroke-width="0.9" />
<path d="M201.0 1111.4 L164.8 1075.5 L162.0 1074.0 L163.5 1076.7 L199.8 1112.6" fill="none" stroke="#222222" stroke-width="0.9" />
<path d="M200.9 1113.3 L158.0 1083.4 L155.0 1082.4 L156.9 1084.9 L199.9 1114.7" fill="none" stroke="#222222" stroke-width="0.9" />
<path d="M200.8 1115.2 L154.5 1088.7 L151.4 1088.0 L153.6 1090.3 L200.0 1116.8" fill="none" stroke="#222222" stroke-width="0.9" />
<path d="M200.8 1117.2 L151.5 1094.1 L148.4 1093.6 L150.7 1095.7 L200.0 1118.8" fill="none" stroke="#222222" stroke-width="0.9" />
<line x1="139.0" y1="1125.6" x2="184.0" y2="1125.6" stroke="#222222" stroke-width="0.8" />
<line x1="139.0" y1="1127.4" x2="184.0" y2="1127.4" stroke="#222222" stroke-width="0.8" />
<rect x="129.4" y="1124.4" width="9.6" height="4.0" rx="0.4" fill="#fff" stroke="#222222" stroke-width="0.9"/>
<line x1="132.6" y1="1124.4" x2="132.6" y2="1128.4" stroke="#222222" stroke-width="0.8" />
<line x1="135.8" y1="1124.4" x2="135.8" y2="1128.4" stroke="#222222" stroke-width="0.8" />
<rect x="125.6" y="1125.6" width="3.8" height="1.8" rx="0.6" fill="none" stroke="#222222" stroke-width="0.8"/>
<rect x="184.0" y="1123.0" width="2.6" height="6.6" rx="0.4" fill="#fff" stroke="#222222" stroke-width="0.9"/>
<rect x="188.6" y="1123.6" width="11.8" height="5.6" rx="0" fill="#fff" stroke="#222222" stroke-width="0.9"/>
<line x1="407.0" y1="1112.6" x2="443.3" y2="1075.4" stroke="#222222" stroke-width="0.9" />
<line x1="405.8" y1="1111.4" x2="442.1" y2="1074.2" stroke="#222222" stroke-width="0.9" />
<line x1="406.9" y1="1114.7" x2="450.2" y2="1083.2" stroke="#222222" stroke-width="0.9" />
<line x1="405.9" y1="1113.3" x2="449.2" y2="1081.8" stroke="#222222" stroke-width="0.9" />
<line x1="406.9" y1="1116.8" x2="453.7" y2="1089.0" stroke="#222222" stroke-width="0.9" />
<line x1="405.9" y1="1115.2" x2="452.7" y2="1087.4" stroke="#222222" stroke-width="0.9" />
<path d="M406.8 1118.8 L455.9 1095.6 L458.2 1093.5 L455.1 1094.0 L406.0 1117.2" fill="none" stroke="#222222" stroke-width="0.9" />
<rect x="-2.8" y="-4" width="5.6" height="8" fill="#fff" stroke="#222" stroke-width="1" transform="translate(441.3,1071.5) rotate(-49.2)"/>
<rect x="-2.8" y="-4" width="5.6" height="8" fill="#fff" stroke="#222" stroke-width="1" transform="translate(449.3,1079) rotate(-39.2)"/>
<rect x="-2.8" y="-4" width="5.6" height="8" fill="#fff" stroke="#222" stroke-width="1" transform="translate(454.2,1085.6) rotate(-32.5)"/>
<rect x="406.4" y="1123.2" width="10.6" height="6.6" rx="0" fill="#fff" stroke="#222222" stroke-width="0.9"/>
<rect x="419.4" y="1124.6" width="2.0" height="4.0" rx="0" fill="none" stroke="#222222" stroke-width="0.8"/>
<rect x="422.0" y="1121.2" width="12.0" height="10.4" rx="1" fill="#fff" stroke="#222222" stroke-width="1.1"/>
<line x1="434.4" y1="1125.2" x2="480.0" y2="1125.2" stroke="#222222" stroke-width="0.8" />
<line x1="434.4" y1="1127.6" x2="480.0" y2="1127.6" stroke="#222222" stroke-width="0.8" />
<path d="M480 1124 Q481 1122 483.4 1122 L486 1122 L486 1131 L483.4 1131 Q481 1131 480 1129 Z" fill="#fff" stroke="#222222" stroke-width="0.9" />
<rect x="487.0" y="1122.0" width="24.0" height="9.4" rx="0" fill="#fff" stroke="#222222" stroke-width="1.1"/>
<circle cx="505.4" cy="1126.6" r="1.90" fill="none" stroke="#222222" stroke-width="0.9"/>
<rect x="489.0" y="1125.4" width="8.6" height="2.2" rx="1" fill="#555" stroke="#222222" stroke-width="0.8"/>
<path d="M365 1020 Q364 1010 360 1004.4 Q356 1000.6 352.6 1004 Q351 1008 357 1016 L360 1020" fill="#fff" stroke="#222222" stroke-width="1.1" />
<path d="M365 1034 Q364 1043 359 1049 Q355 1052 352.2 1048 Q351 1044 357 1038 L360 1034" fill="#fff" stroke="#222222" stroke-width="1.1" />
<rect x="321.4" y="1018.4" width="43.0" height="16.2" rx="0" fill="#fff" stroke="#222222" stroke-width="1.1"/>
<path d="M321.4 1024.4 L331.4 1024.4 L331.4 1029.4 L321.4 1029.4" fill="none" stroke="#222222" stroke-width="1.1" />
<line x1="330.0" y1="1024.4" x2="330.0" y2="1029.4" stroke="#222222" stroke-width="0.8" />
<rect x="364.4" y="1021.0" width="92.6" height="10.4" rx="0" fill="#fff" stroke="#222222" stroke-width="0.8"/>
<line x1="364.4" y1="1021.6" x2="457.0" y2="1021.6" stroke="#222222" stroke-width="1.8" />
<line x1="364.4" y1="1030.6" x2="457.0" y2="1030.6" stroke="#222222" stroke-width="2" />
<line x1="364.4" y1="1024.0" x2="457.0" y2="1024.0" stroke="#222222" stroke-width="0.7" />
<line x1="364.4" y1="1027.6" x2="457.0" y2="1027.6" stroke="#222222" stroke-width="0.7" />
<path d="M457.0 1021.0 L474.0 1013.4" fill="none" stroke="#222222" stroke-width="0.9" />
<path d="M459.0 1025.4 L476.6 1018.6" fill="none" stroke="#222222" stroke-width="0.9" />
<g transform="translate(474.8,1015.7) rotate(-26.5)"><rect x="0" y="-2.8" width="27" height="5.6" fill="#fff" stroke="#262626" stroke-width="1"/><line x1="6.5" y1="-2.8" x2="6.5" y2="2.8" stroke="#222" stroke-width="1"/><line x1="13.5" y1="-2.8" x2="13.5" y2="2.8" stroke="#222" stroke-width="1"/><line x1="20.5" y1="-2.8" x2="20.5" y2="2.8" stroke="#222" stroke-width="1"/></g>
<path d="M468.0 1016.0 L470.0 1019.0" fill="none" stroke="#222222" stroke-width="0.9" />
<path d="M457.0 1026.4 L484.0 1026.6" fill="none" stroke="#222222" stroke-width="0.9" />
<path d="M457.0 1030.8 L484.0 1031.2" fill="none" stroke="#222222" stroke-width="0.9" />
<line x1="470.0" y1="1030.8" x2="484.0" y2="1030.8" stroke="#666" stroke-width="1.6" />
<rect x="486.4" y="1026.4" width="26.6" height="4.8" rx="0.6" fill="#fff" stroke="#222222" stroke-width="0.9"/>
<line x1="487.0" y1="1030.6" x2="512.0" y2="1030.6" stroke="#555" stroke-width="1.4" />
<path d="M492.4 1026.4 L493.4 1024.8 L494.4 1026.4" fill="none" stroke="#222222" stroke-width="0.8" />
<rect x="513.6" y="1026.0" width="2.4" height="6.0" rx="0.6" fill="#fff" stroke="#222222" stroke-width="0.9"/>
<rect x="516.8" y="1026.0" width="2.4" height="6.0" rx="0.6" fill="#fff" stroke="#222222" stroke-width="0.9"/>
<path d="M519.4 1026.6 L522 1026.6 Q524 1024.4 529 1024.8 L529.6 1026.8 Q525 1027 524.6 1029.2 Q525 1031.8 529.6 1032 L529 1034 Q524 1034.4 522 1032.2 L519.4 1032.2 Z" fill="#fff" stroke="#222222" stroke-width="0.9" />
</g>
<g id="side">
<path d="M651.4 889 L669 869.4 L827 869.4 L910.4 851.4 Q915 862 917 882 Q900 890 876 900 Q850 907.6 812 909.4 L687.4 909.4 L651.4 901.4 Z" fill="none" stroke="#222222" stroke-width="1.1" />
<path d="M686.6 869.4 Q682 878 681.3 889 L681.3 907.8" fill="none" stroke="#222222" stroke-width="1.1" />
<path d="M692.6 869.4 Q688 878 687.3 889 L687.3 909.4" fill="none" stroke="#222222" stroke-width="1.1" />
<path d="M733.2 869.4 Q738.6 878 739.2 889 L739.2 909.4" fill="none" stroke="#222222" stroke-width="1.1" />
<path d="M739.9 869.4 Q744 878 744.7 889 L744.7 908" fill="none" stroke="#222222" stroke-width="1.1" />
<clipPath id="kc"><rect x="680" y="860" width="70" height="49.9"/></clipPath>
<g clip-path="url(#kc)">
<circle cx="713.6" cy="888.5" r="23.10" fill="#fff" stroke="#222222" stroke-width="1.1"/>
<circle cx="713.6" cy="888.5" r="21.80" fill="none" stroke="#555" stroke-width="0.55"/>
<circle cx="713.6" cy="888.5" r="20.40" fill="none" stroke="#555" stroke-width="0.55"/>
<circle cx="713.6" cy="888.5" r="19.00" fill="none" stroke="#222222" stroke-width="1.1"/>
</g>
<line x1="687.4" y1="909.4" x2="744.0" y2="909.4" stroke="#222222" stroke-width="1.1" />
<rect x="762.0" y="872.4" width="23.6" height="17.2" rx="2" fill="none" stroke="#222222" stroke-width="1.1"/>
<circle cx="773.6" cy="881.0" r="5.60" fill="none" stroke="#222222" stroke-width="1.1"/>
<circle cx="773.6" cy="881.0" r="2.80" fill="none" stroke="#222222" stroke-width="1.1"/>
<circle cx="812.0" cy="883.0" r="3.50" fill="none" stroke="#222222" stroke-width="1.1"/>
<path d="M812.0 910.0 C812.5 912.7 813.8 921.0 815.0 926.0 C816.2 931.0 817.3 936.5 819.0 940.0 C820.7 943.5 822.8 945.5 825.0 947.0 C827.2 948.5 829.8 949.3 832.0 949.0 C834.2 948.7 836.3 948.2 838.0 945.0 C839.7 941.8 840.3 936.4 842.0 930.0 C843.7 923.6 847.0 910.5 848.0 906.6" fill="none" stroke="#222222" stroke-width="1.1" />
<circle cx="829.6" cy="938.0" r="3.40" fill="none" stroke="#222222" stroke-width="1.1"/>
<rect x="836.6" y="746.0" width="7.0" height="93.0" rx="1" fill="none" stroke="#222222" stroke-width="1.1"/>
<line x1="837.6" y1="745.0" x2="842.6" y2="745.0" stroke="#222222" stroke-width="1" />
<line x1="837.6" y1="840.0" x2="842.6" y2="840.0" stroke="#222222" stroke-width="1" />
<line x1="836.6" y1="782.4" x2="884.0" y2="782.4" stroke="#222222" stroke-width="1.1" />
<line x1="836.6" y1="803.4" x2="884.0" y2="803.4" stroke="#222222" stroke-width="1.1" />
<line x1="836.6" y1="803.4" x2="843.6" y2="803.4" stroke="#222222" stroke-width="2" />
<path d="M839.5 840.0 L839.5 856.0 L814.0 880.6" fill="none" stroke="#222222" stroke-width="1.1" />
<circle cx="884.1" cy="782.4" r="7.10" fill="#fff" stroke="none" stroke-width="0"/>
<path d="M877.5 779.8 A7.1 7.1 0 1 1 877.5 785.0" fill="none" stroke="#222222" stroke-width="0.9" />
<path d="M877.5 779.8 L883.3 781.2" fill="none" stroke="#222222" stroke-width="0.9" />
<path d="M877.5 785.0 L883.3 783.6" fill="none" stroke="#222222" stroke-width="0.9" />
<path d="M881.5 777.4 Q888.5 777.0 888.1 780.0 Q887.7 782.0 885.1 782.4 Q887.7 782.8 888.1 784.8 Q888.5 787.8 881.5 787.4" fill="none" stroke="#222222" stroke-width="1.4" />
<circle cx="884.1" cy="803.4" r="7.10" fill="#fff" stroke="none" stroke-width="0"/>
<path d="M877.5 800.8 A7.1 7.1 0 1 1 877.5 806.0" fill="none" stroke="#222222" stroke-width="0.9" />
<path d="M877.5 800.8 L883.3 802.2" fill="none" stroke="#222222" stroke-width="0.9" />
<path d="M877.5 806.0 L883.3 804.6" fill="none" stroke="#222222" stroke-width="0.9" />
<path d="M881.5 798.4 Q888.5 798.0 888.1 801.0 Q887.7 803.0 885.1 803.4 Q887.7 803.8 888.1 805.8 Q888.5 808.8 881.5 808.4" fill="none" stroke="#222222" stroke-width="1.4" />
<line x1="812.4" y1="886.4" x2="812.4" y2="1029.0" stroke="#222222" stroke-width="1.1" />
<line x1="829.4" y1="941.0" x2="829.4" y2="1126.4" stroke="#222222" stroke-width="1.1" />
<rect x="808.0" y="953.6" width="10.0" height="14.8" rx="0" fill="#fff" stroke="#222222" stroke-width="1.1"/>
<line x1="807.0" y1="953.6" x2="819.0" y2="953.6" stroke="#222222" stroke-width="2" />
<rect x="808.0" y="991.6" width="10.0" height="14.4" rx="0" fill="#fff" stroke="#222222" stroke-width="1.1"/>
<rect x="807.0" y="1006.0" width="12.0" height="1.8" rx="0" fill="#fff" stroke="#222222" stroke-width="0.9"/>
<line x1="830.4" y1="940.6" x2="841.4" y2="961.0" stroke="#222222" stroke-width="1.1" />
<line x1="841.4" y1="961.0" x2="841.4" y2="1019.0" stroke="#222222" stroke-width="1.1" />
<circle cx="841.4" cy="961.4" r="2.00" fill="#888" stroke="#222222" stroke-width="1.2"/>
<rect x="839.4" y="981.6" width="4.0" height="19.4" rx="0.8" fill="#fff" stroke="#222222" stroke-width="1.3"/>
<circle cx="841.4" cy="1019.0" r="2.20" fill="#888" stroke="#222222" stroke-width="1.4"/>
<path d="M632 1092.4 Q628 1093.4 627.6 1098 L627.4 1106.6 L826 1106.6 L826 1102.6 Q826.4 1100 829 1100 L837 1100 Q839.6 1100 839.6 1102.6 L839.6 1106 L904.4 1106 L903.8 1096 Q903 1092.8 900 1092.4 L632 1092.4" fill="none" stroke="#222222" stroke-width="1.1" />
<path d="M628.0 1106.6 L628.0 1109.6 L660.0 1109.6 L660.0 1106.6" fill="none" stroke="#222222" stroke-width="1.1" />
<path d="M870.0 1106.0 L870.0 1109.4 L904.4 1109.4 L904.4 1106.0" fill="none" stroke="#222222" stroke-width="1.1" />
<path d="M632.0 1092.4 C636.7 1092.1 648.7 1091.2 660.0 1090.6 C671.3 1090.0 686.7 1089.4 700.0 1089.0 C713.3 1088.6 726.7 1088.2 740.0 1088.0 C753.3 1087.8 766.7 1087.6 780.0 1087.8 C793.3 1088.0 806.7 1088.5 820.0 1089.0 C833.3 1089.5 846.7 1090.0 860.0 1090.6 C873.3 1091.2 893.3 1092.1 900.0 1092.4" fill="none" stroke="#222222" stroke-width="1.1" />
<path d="M651.4 1092 L651.4 1089.6 L681 1086.4 L681 1090" fill="none" stroke="#222222" stroke-width="1.1" />
<path d="M681 1086.4 L778 1064.4 Q782 1063.4 784.6 1059.6 L804 1030 Q808 1024.6 813 1024.6 Q820.6 1025 823.6 1034 L825.6 1048 Q826 1052.4 829 1052.4 L838 1052.4 Q840.4 1052.4 842 1054.6 L868 1086 Q872 1090.6 880 1091.4 L900 1092.4" fill="none" stroke="#222222" stroke-width="1.1" />
<circle cx="812.6" cy="1033.2" r="4.20" fill="none" stroke="#222222" stroke-width="1.1"/>
<line x1="661.4" y1="1106.6" x2="661.4" y2="1170.0" stroke="#222222" stroke-width="1.1" />
<line x1="681.4" y1="1106.6" x2="681.4" y2="1222.0" stroke="#222222" stroke-width="1.1" />
<line x1="707.4" y1="1106.6" x2="707.4" y2="1236.0" stroke="#222222" stroke-width="1.1" />
<line x1="755.4" y1="1106.6" x2="755.4" y2="1168.0" stroke="#222222" stroke-width="1.1" />
<line x1="511.0" y1="1126.4" x2="829.4" y2="1126.4" stroke="#222222" stroke-width="1.1" />
<path d="M661.4 1118.0 L632.4 1138.6 L632.4 1170.0" fill="none" stroke="#222222" stroke-width="1.1" />
<rect x="628.0" y="1153.4" width="37.6" height="2.2" rx="1" fill="#fff" stroke="#222222" stroke-width="0.9"/>
<line x1="632.4" y1="1169.6" x2="632.4" y2="1180.0" stroke="#222" stroke-width="2.6" />
<circle cx="630.7" cy="1181.6" r="1.40" fill="none" stroke="#222222" stroke-width="0.8"/>
<circle cx="634.1" cy="1181.6" r="1.40" fill="none" stroke="#222222" stroke-width="0.8"/>
<line x1="661.4" y1="1169.6" x2="661.4" y2="1180.0" stroke="#222" stroke-width="2.6" />
<circle cx="659.7" cy="1181.6" r="1.40" fill="none" stroke="#222222" stroke-width="0.8"/>
<circle cx="663.1" cy="1181.6" r="1.40" fill="none" stroke="#222222" stroke-width="0.8"/>
<line x1="680.0" y1="1203.6" x2="709.4" y2="1203.6" stroke="#222222" stroke-width="1.6" />
<line x1="681.4" y1="1221.6" x2="681.4" y2="1232.6" stroke="#222" stroke-width="2.6" />
<circle cx="679.7" cy="1234.2" r="1.40" fill="none" stroke="#222222" stroke-width="0.8"/>
<circle cx="683.1" cy="1234.2" r="1.40" fill="none" stroke="#222222" stroke-width="0.8"/>
<line x1="707.4" y1="1235.0" x2="707.4" y2="1247.6" stroke="#222" stroke-width="2.6" />
<circle cx="705.7" cy="1249.2" r="1.40" fill="none" stroke="#222222" stroke-width="0.8"/>
<circle cx="709.1" cy="1249.2" r="1.40" fill="none" stroke="#222222" stroke-width="0.8"/>
<line x1="755.4" y1="1167.6" x2="755.4" y2="1178.6" stroke="#222" stroke-width="2.6" />
<circle cx="753.7" cy="1180.2" r="1.40" fill="none" stroke="#222222" stroke-width="0.8"/>
<circle cx="757.1" cy="1180.2" r="1.40" fill="none" stroke="#222222" stroke-width="0.8"/>
<line x1="752.0" y1="1145.6" x2="764.0" y2="1145.6" stroke="#222222" stroke-width="1.1" />
<path d="M764 1145.6 Q769.4 1146 769.2 1150.6 Q769 1155 764.4 1155 Q760 1154.6 760 1150 Q760 1148 761.6 1147.4 L754.4 1151" fill="none" stroke="#222222" stroke-width="1.1" />
<path d="M536 1030.4 L561 1030.4 L595.6 1096.4 L628 1096.4" fill="none" stroke="#222222" stroke-width="1.1" stroke-dasharray="8 4"/>
</g>
<g id="labels">
<text class="lb" transform="translate(108.2,79.3) scale(0.815,1)" font-size="22.4" fill="#2b2b2b" stroke="#2b2b2b" stroke-width="0.35">12</text>
<text class="lb" transform="translate(154.2,68.3) scale(0.815,1)" font-size="22.4" fill="#2b2b2b" stroke="#2b2b2b" stroke-width="0.35">13</text>
<text class="lb" transform="translate(190.6,61.3) scale(0.815,1)" font-size="22.4" fill="#2b2b2b" stroke="#2b2b2b" stroke-width="0.35">14</text>
<text class="lb" transform="translate(230.2,62.3) scale(0.815,1)" font-size="22.4" fill="#2b2b2b" stroke="#2b2b2b" stroke-width="0.35">15</text>
<text class="lb" transform="translate(370.8,69.3) scale(0.815,1)" font-size="22.4" fill="#2b2b2b" stroke="#2b2b2b" stroke-width="0.35">16</text>
<text class="lb" transform="translate(90.2,119.9) scale(0.815,1)" font-size="22.4" fill="#2b2b2b" stroke="#2b2b2b" stroke-width="0.35">11</text>
<text class="lb" transform="translate(85.2,152.7) scale(0.815,1)" font-size="22.4" fill="#2b2b2b" stroke="#2b2b2b" stroke-width="0.35">10</text>
<text class="lb" transform="translate(97.6,179.3) scale(0.815,1)" font-size="22.4" fill="#2b2b2b" stroke="#2b2b2b" stroke-width="0.35">9</text>
<text class="lb" transform="translate(76.2,189.3) scale(0.815,1)" font-size="22.4" fill="#2b2b2b" stroke="#2b2b2b" stroke-width="0.35">8</text>
<text class="lb" transform="translate(80.8,223.9) scale(0.815,1)" font-size="22.4" fill="#2b2b2b" stroke="#2b2b2b" stroke-width="0.35">7</text>
<text class="lb" transform="translate(72.8,245.9) scale(0.815,1)" font-size="22.4" fill="#2b2b2b" stroke="#2b2b2b" stroke-width="0.35">8</text>
<text class="lb" transform="translate(91.2,276.3) scale(0.815,1)" font-size="22.4" fill="#2b2b2b" stroke="#2b2b2b" stroke-width="0.35">6</text>
<text class="lb" transform="translate(94.8,304.3) scale(0.815,1)" font-size="22.4" fill="#2b2b2b" stroke="#2b2b2b" stroke-width="0.35">4</text>
<text class="lb" transform="translate(95.2,331.9) scale(0.815,1)" font-size="22.4" fill="#2b2b2b" stroke="#2b2b2b" stroke-width="0.35">4</text>
<text class="lb" transform="translate(106.2,352.3) scale(0.815,1)" font-size="22.4" fill="#2b2b2b" stroke="#2b2b2b" stroke-width="0.35">5</text>
<text class="lb" transform="translate(107.2,381.3) scale(0.815,1)" font-size="22.4" fill="#2b2b2b" stroke="#2b2b2b" stroke-width="0.35">3</text>
<text class="lb" transform="translate(106.2,425.3) scale(0.815,1)" font-size="22.4" fill="#2b2b2b" stroke="#2b2b2b" stroke-width="0.35">2</text>
<text class="lb" transform="translate(435.2,290.1) scale(0.815,1)" font-size="22.4" fill="#2b2b2b" stroke="#2b2b2b" stroke-width="0.35">17</text>
<text class="lb" transform="translate(419.6,350.3) scale(0.815,1)" font-size="22.4" fill="#2b2b2b" stroke="#2b2b2b" stroke-width="0.35">18</text>
<text class="lb" transform="translate(423.2,427.9) scale(0.815,1)" font-size="22.4" fill="#2b2b2b" stroke="#2b2b2b" stroke-width="0.35">19</text>
<text class="lb" transform="translate(722.8,89.3) scale(0.815,1)" font-size="22.4" fill="#2b2b2b" stroke="#2b2b2b" stroke-width="0.35">22</text>
<text class="lb" transform="translate(554.2,237.3) scale(0.815,1)" font-size="22.4" fill="#2b2b2b" stroke="#2b2b2b" stroke-width="0.35">21</text>
<text class="lb" transform="translate(893.2,287.3) scale(0.815,1)" font-size="22.4" fill="#2b2b2b" stroke="#2b2b2b" stroke-width="0.35">23</text>
<text class="lb" transform="translate(591.6,393.3) scale(0.815,1)" font-size="22.4" fill="#2b2b2b" stroke="#2b2b2b" stroke-width="0.35">20</text>
<text class="lb" transform="translate(869.6,757.3) scale(0.815,1)" font-size="22.4" fill="#2b2b2b" stroke="#2b2b2b" stroke-width="0.35">24</text>
<text class="lb" transform="translate(913.6,784.3) scale(0.815,1)" font-size="22.4" fill="#2b2b2b" stroke="#2b2b2b" stroke-width="0.35">25</text>
<text class="lb" transform="translate(920.2,807.3) scale(0.815,1)" font-size="22.4" fill="#2b2b2b" stroke="#2b2b2b" stroke-width="0.35">25</text>
<text class="lb" transform="translate(870.8,963.3) scale(0.815,1)" font-size="22.4" fill="#2b2b2b" stroke="#2b2b2b" stroke-width="0.35">27</text>
<text class="lb" transform="translate(872.8,991.3) scale(0.815,1)" font-size="22.4" fill="#2b2b2b" stroke="#2b2b2b" stroke-width="0.35">28</text>
<text class="lb" transform="translate(873.2,1021.3) scale(0.815,1)" font-size="22.4" fill="#2b2b2b" stroke="#2b2b2b" stroke-width="0.35">27</text>
<text class="lb" transform="translate(761.2,960.3) scale(0.815,1)" font-size="22.4" fill="#2b2b2b" stroke="#2b2b2b" stroke-width="0.35">26</text>
<text class="lb" transform="translate(761.2,998.3) scale(0.815,1)" font-size="22.4" fill="#2b2b2b" stroke="#2b2b2b" stroke-width="0.35">26</text>
<text class="lb" transform="translate(907.2,1072.3) scale(0.815,1)" font-size="22.4" fill="#2b2b2b" stroke="#2b2b2b" stroke-width="0.35">29</text>
<text class="lb" transform="translate(797.4,1153.3) scale(0.815,1)" font-size="22.4" fill="#2b2b2b" stroke="#2b2b2b" stroke-width="0.35">30</text>
<text class="lb" transform="translate(606.6,888.3) scale(0.815,1)" font-size="22.4" fill="#2b2b2b" stroke="#2b2b2b" stroke-width="0.35">22</text>
<text class="lb" transform="translate(789.6,1179.3) scale(0.815,1)" font-size="22.4" fill="#2b2b2b" stroke="#2b2b2b" stroke-width="0.35">31</text>
<text class="lb" transform="translate(636.2,1209.3) scale(0.815,1)" font-size="22.4" fill="#2b2b2b" stroke="#2b2b2b" stroke-width="0.35">33</text>
<text class="lb" transform="translate(637.2,1231.3) scale(0.815,1)" font-size="22.4" fill="#2b2b2b" stroke="#2b2b2b" stroke-width="0.35">32</text>
<text class="lb" transform="translate(735.2,1246.3) scale(0.815,1)" font-size="22.4" fill="#2b2b2b" stroke="#2b2b2b" stroke-width="0.35">31</text>
<text class="lb" transform="translate(584.2,1154.3) scale(0.815,1)" font-size="22.4" fill="#2b2b2b" stroke="#2b2b2b" stroke-width="0.35">35</text>
<text class="lb" transform="translate(589.6,1178.3) scale(0.815,1)" font-size="22.4" fill="#2b2b2b" stroke="#2b2b2b" stroke-width="0.35">34</text>
<text class="lb" transform="translate(422.2,998.3) scale(0.815,1)" font-size="22.4" fill="#2b2b2b" stroke="#2b2b2b" stroke-width="0.35">36</text>
<text class="lb" transform="translate(81.2,1099.3) scale(0.815,1)" font-size="22.4" fill="#2b2b2b" stroke="#2b2b2b" stroke-width="0.35">37</text>
<text class="lb" transform="translate(289.6,1084.3) scale(0.815,1)" font-size="22.4" fill="#2b2b2b" stroke="#2b2b2b" stroke-width="0.35">38</text>
<text class="lb" transform="translate(970.2,1272.3) scale(0.815,1)" font-size="22.4" fill="#2b2b2b" stroke="#2b2b2b" stroke-width="0.35">32381</text>
<line x1="124.0" y1="81.0" x2="213.0" y2="211.0" stroke="#222222" stroke-width="1.1" />
<line x1="174.0" y1="70.0" x2="273.0" y2="174.0" stroke="#222222" stroke-width="1.1" />
<line x1="207.3" y1="65.0" x2="338.0" y2="204.7" stroke="#222222" stroke-width="1.1" />
<line x1="242.6" y1="64.3" x2="340.4" y2="199.0" stroke="#222222" stroke-width="1.1" />
<line x1="378.0" y1="73.0" x2="315.0" y2="196.0" stroke="#222222" stroke-width="1.1" />
<line x1="435.0" y1="282.0" x2="257.0" y2="251.0" stroke="#222222" stroke-width="1.1" />
<line x1="109.0" y1="116.0" x2="186.0" y2="192.0" stroke="#222222" stroke-width="1.1" />
<line x1="104.4" y1="150.0" x2="147.0" y2="179.0" stroke="#222222" stroke-width="1.1" />
<line x1="109.0" y1="172.0" x2="183.0" y2="195.0" stroke="#222222" stroke-width="1.1" />
<line x1="88.0" y1="183.0" x2="118.0" y2="198.0" stroke="#222222" stroke-width="1.1" />
<line x1="92.0" y1="218.0" x2="214.0" y2="263.0" stroke="#222222" stroke-width="1.1" />
<line x1="85.0" y1="240.0" x2="115.0" y2="246.0" stroke="#222222" stroke-width="1.1" />
<line x1="102.0" y1="268.0" x2="220.0" y2="279.0" stroke="#222222" stroke-width="1.1" />
<line x1="107.0" y1="298.0" x2="239.0" y2="305.6" stroke="#222222" stroke-width="1.1" />
<line x1="109.0" y1="325.0" x2="255.0" y2="317.0" stroke="#222222" stroke-width="1.1" />
<line x1="118.0" y1="345.0" x2="188.0" y2="337.0" stroke="#222222" stroke-width="1.1" />
<line x1="119.0" y1="371.0" x2="182.0" y2="351.0" stroke="#222222" stroke-width="1.1" />
<line x1="118.0" y1="419.0" x2="168.0" y2="410.0" stroke="#222222" stroke-width="1.1" />
<line x1="420.0" y1="346.0" x2="303.0" y2="336.0" stroke="#222222" stroke-width="1.1" />
<line x1="418.0" y1="419.0" x2="332.0" y2="379.0" stroke="#222222" stroke-width="1.1" />
<line x1="728.0" y1="94.0" x2="720.0" y2="118.0" stroke="#222222" stroke-width="1.1" />
<line x1="575.0" y1="231.0" x2="597.0" y2="238.6" stroke="#222222" stroke-width="1.1" />
<line x1="891.6" y1="281.6" x2="829.4" y2="287.0" stroke="#222222" stroke-width="1.1" />
<line x1="611.0" y1="379.0" x2="644.4" y2="362.0" stroke="#222222" stroke-width="1.1" />
<line x1="867.0" y1="754.0" x2="844.4" y2="757.4" stroke="#222222" stroke-width="1.1" />
<line x1="913.6" y1="779.0" x2="893.6" y2="782.4" stroke="#222222" stroke-width="1.1" />
<line x1="920.0" y1="801.0" x2="894.0" y2="804.6" stroke="#222222" stroke-width="1.1" />
<line x1="869.0" y1="959.0" x2="846.0" y2="961.6" stroke="#222222" stroke-width="1.1" />
<line x1="872.0" y1="985.0" x2="847.0" y2="989.4" stroke="#222222" stroke-width="1.1" />
<line x1="782.4" y1="956.0" x2="807.0" y2="960.0" stroke="#222222" stroke-width="1.1" />
<line x1="782.4" y1="994.0" x2="807.6" y2="999.0" stroke="#222222" stroke-width="1.1" />
<line x1="871.0" y1="1014.0" x2="845.0" y2="1018.4" stroke="#222222" stroke-width="1.1" />
<line x1="907.0" y1="1073.6" x2="891.0" y2="1089.6" stroke="#222222" stroke-width="1.1" />
<line x1="796.0" y1="1148.0" x2="771.0" y2="1151.0" stroke="#222222" stroke-width="1.1" />
<line x1="626.0" y1="885.0" x2="648.0" y2="890.4" stroke="#222222" stroke-width="1.1" />
<line x1="788.0" y1="1172.0" x2="759.0" y2="1176.4" stroke="#222222" stroke-width="1.1" />
<line x1="656.0" y1="1202.6" x2="678.0" y2="1203.6" stroke="#222222" stroke-width="1.1" />
<line x1="658.0" y1="1225.0" x2="679.0" y2="1228.0" stroke="#222222" stroke-width="1.1" />
<line x1="734.0" y1="1241.0" x2="711.0" y2="1245.6" stroke="#222222" stroke-width="1.1" />
<line x1="605.0" y1="1150.4" x2="625.0" y2="1154.0" stroke="#222222" stroke-width="1.1" />
<line x1="610.0" y1="1173.0" x2="626.0" y2="1175.6" stroke="#222222" stroke-width="1.1" />
<line x1="426.0" y1="1000.0" x2="418.4" y2="1019.0" stroke="#222222" stroke-width="1.1" />
<line x1="90.4" y1="1103.0" x2="94.6" y2="1121.0" stroke="#222222" stroke-width="1.1" />
<line x1="298.0" y1="1087.4" x2="307.0" y2="1108.0" stroke="#222222" stroke-width="1.1" />
</g>
</svg>
</body></html>
